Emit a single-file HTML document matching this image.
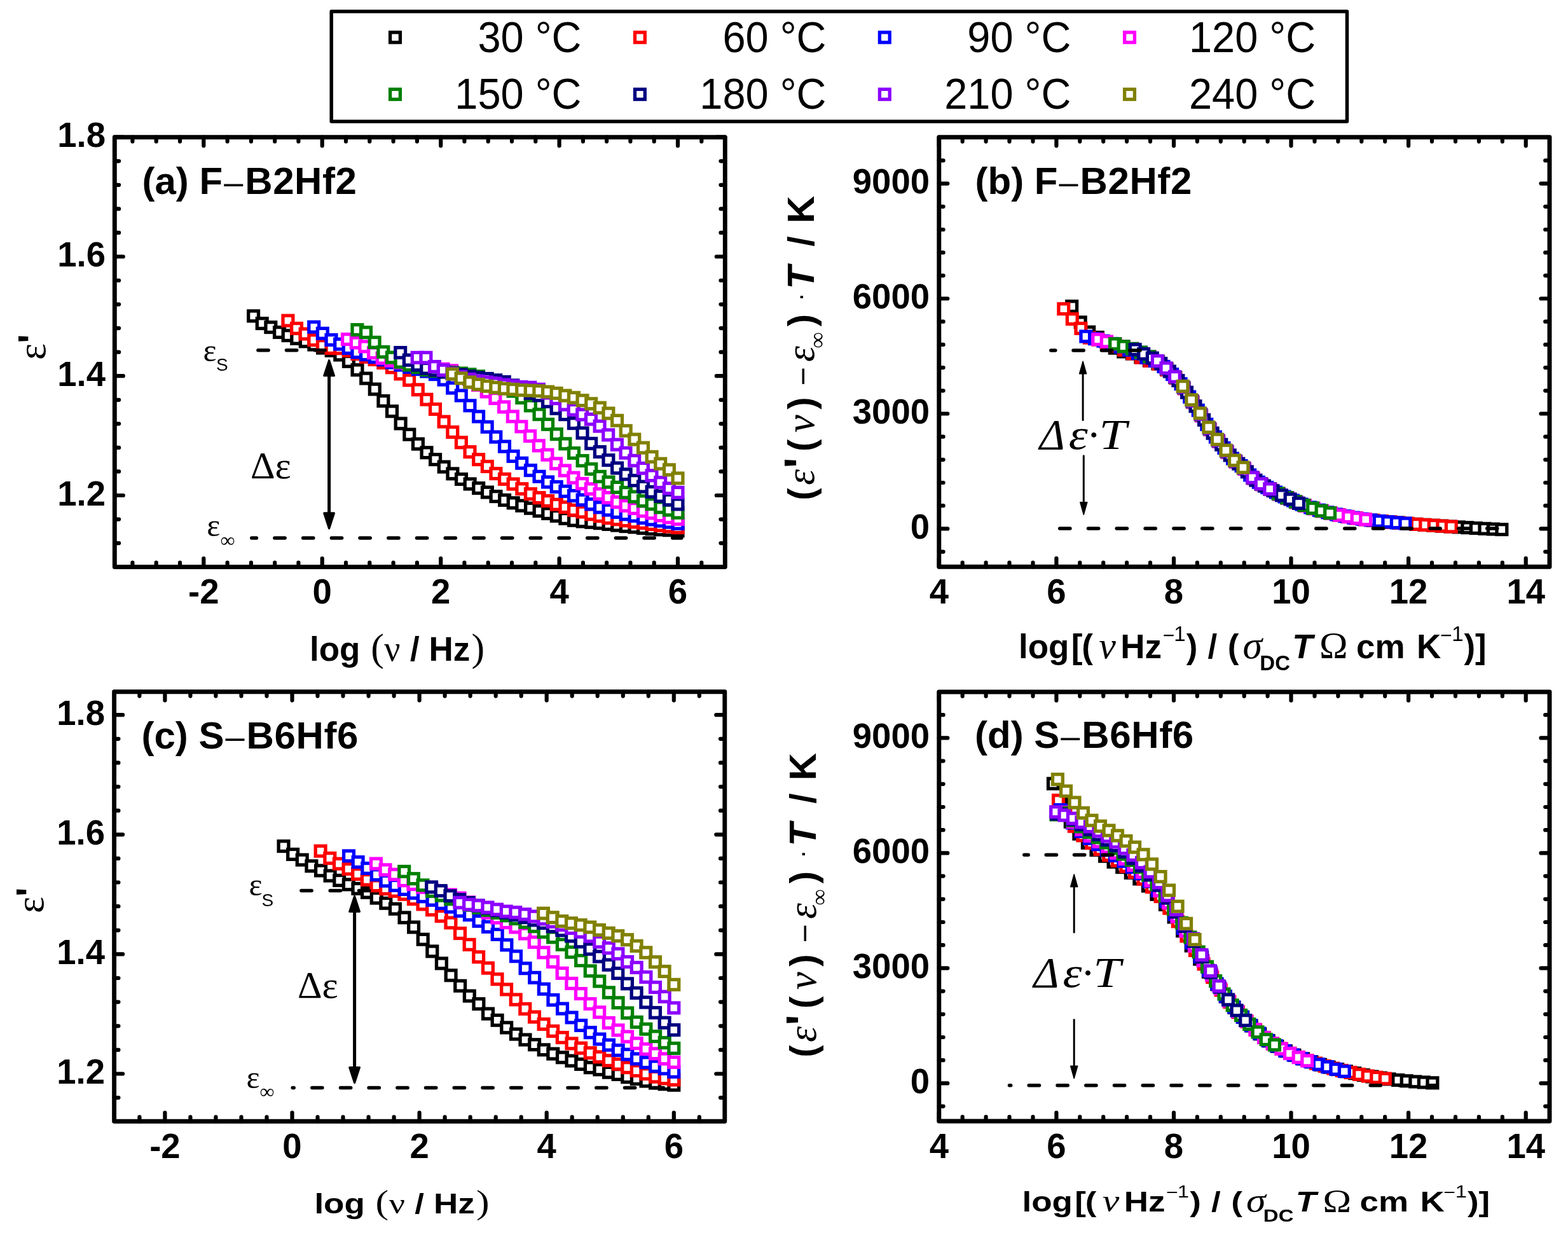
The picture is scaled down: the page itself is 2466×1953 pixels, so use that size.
<!DOCTYPE html>
<html><head><meta charset="utf-8"><title>Dielectric spectra</title>
<style>html,body{margin:0;padding:0;background:#fff;} svg{display:block;}</style>
</head><body>
<svg xmlns="http://www.w3.org/2000/svg" width="2466" height="1953" viewBox="0 0 2466 1953">
<rect width="2466" height="1953" fill="#fff"/>
<g fill="#fff" stroke="#000000" stroke-width="5.3"><rect x="390.7" y="489.0" width="15.8" height="15.8"/><rect x="404.3" y="500.7" width="15.8" height="15.8"/><rect x="417.9" y="506.7" width="15.8" height="15.8"/><rect x="431.6" y="514.6" width="15.8" height="15.8"/><rect x="445.2" y="519.7" width="15.8" height="15.8"/><rect x="458.8" y="524.4" width="15.8" height="15.8"/><rect x="472.4" y="529.0" width="15.8" height="15.8"/><rect x="486.0" y="534.1" width="15.8" height="15.8"/><rect x="499.7" y="539.2" width="15.8" height="15.8"/><rect x="513.3" y="543.4" width="15.8" height="15.8"/><rect x="526.9" y="550.1" width="15.8" height="15.8"/><rect x="540.5" y="560.4" width="15.8" height="15.8"/><rect x="554.1" y="573.8" width="15.8" height="15.8"/><rect x="567.8" y="587.1" width="15.8" height="15.8"/><rect x="581.4" y="604.1" width="15.8" height="15.8"/><rect x="595.0" y="622.6" width="15.8" height="15.8"/><rect x="608.6" y="638.8" width="15.8" height="15.8"/><rect x="622.2" y="658.1" width="15.8" height="15.8"/><rect x="635.9" y="675.3" width="15.8" height="15.8"/><rect x="649.5" y="690.2" width="15.8" height="15.8"/><rect x="663.1" y="703.8" width="15.8" height="15.8"/><rect x="676.7" y="714.7" width="15.8" height="15.8"/><rect x="690.3" y="726.2" width="15.8" height="15.8"/><rect x="704.0" y="737.0" width="15.8" height="15.8"/><rect x="717.6" y="745.6" width="15.8" height="15.8"/><rect x="731.2" y="753.1" width="15.8" height="15.8"/><rect x="744.8" y="759.7" width="15.8" height="15.8"/><rect x="758.5" y="766.2" width="15.8" height="15.8"/><rect x="772.1" y="772.7" width="15.8" height="15.8"/><rect x="785.7" y="778.5" width="15.8" height="15.8"/><rect x="799.3" y="782.9" width="15.8" height="15.8"/><rect x="812.9" y="787.3" width="15.8" height="15.8"/><rect x="826.6" y="791.3" width="15.8" height="15.8"/><rect x="840.2" y="795.6" width="15.8" height="15.8"/><rect x="853.8" y="799.6" width="15.8" height="15.8"/><rect x="867.4" y="803.4" width="15.8" height="15.8"/><rect x="881.0" y="807.5" width="15.8" height="15.8"/><rect x="894.7" y="810.4" width="15.8" height="15.8"/><rect x="908.3" y="812.1" width="15.8" height="15.8"/><rect x="921.9" y="813.4" width="15.8" height="15.8"/><rect x="935.5" y="814.8" width="15.8" height="15.8"/><rect x="949.1" y="816.5" width="15.8" height="15.8"/><rect x="962.8" y="818.2" width="15.8" height="15.8"/><rect x="976.4" y="819.7" width="15.8" height="15.8"/><rect x="990.0" y="821.0" width="15.8" height="15.8"/><rect x="1003.6" y="822.6" width="15.8" height="15.8"/><rect x="1017.2" y="823.9" width="15.8" height="15.8"/><rect x="1030.9" y="825.0" width="15.8" height="15.8"/><rect x="1044.5" y="825.8" width="15.8" height="15.8"/><rect x="1058.1" y="826.9" width="15.8" height="15.8"/></g>
<g fill="#fff" stroke="#FF0000" stroke-width="5.3"><rect x="445.0" y="496.3" width="15.8" height="15.8"/><rect x="458.6" y="508.5" width="15.8" height="15.8"/><rect x="472.2" y="517.2" width="15.8" height="15.8"/><rect x="485.9" y="526.8" width="15.8" height="15.8"/><rect x="499.5" y="535.6" width="15.8" height="15.8"/><rect x="513.1" y="539.6" width="15.8" height="15.8"/><rect x="526.7" y="539.9" width="15.8" height="15.8"/><rect x="540.4" y="543.6" width="15.8" height="15.8"/><rect x="554.0" y="548.7" width="15.8" height="15.8"/><rect x="567.6" y="553.4" width="15.8" height="15.8"/><rect x="581.2" y="557.5" width="15.8" height="15.8"/><rect x="594.9" y="562.6" width="15.8" height="15.8"/><rect x="608.5" y="569.9" width="15.8" height="15.8"/><rect x="622.1" y="580.0" width="15.8" height="15.8"/><rect x="635.7" y="589.9" width="15.8" height="15.8"/><rect x="649.4" y="604.9" width="15.8" height="15.8"/><rect x="663.0" y="620.3" width="15.8" height="15.8"/><rect x="676.6" y="635.5" width="15.8" height="15.8"/><rect x="690.2" y="655.2" width="15.8" height="15.8"/><rect x="703.9" y="671.6" width="15.8" height="15.8"/><rect x="717.5" y="687.9" width="15.8" height="15.8"/><rect x="731.1" y="702.7" width="15.8" height="15.8"/><rect x="744.7" y="714.7" width="15.8" height="15.8"/><rect x="758.4" y="725.6" width="15.8" height="15.8"/><rect x="772.0" y="736.8" width="15.8" height="15.8"/><rect x="785.6" y="745.5" width="15.8" height="15.8"/><rect x="799.2" y="753.2" width="15.8" height="15.8"/><rect x="812.9" y="760.8" width="15.8" height="15.8"/><rect x="826.5" y="768.8" width="15.8" height="15.8"/><rect x="840.1" y="774.8" width="15.8" height="15.8"/><rect x="853.7" y="779.7" width="15.8" height="15.8"/><rect x="867.4" y="785.4" width="15.8" height="15.8"/><rect x="881.0" y="789.7" width="15.8" height="15.8"/><rect x="894.6" y="794.3" width="15.8" height="15.8"/><rect x="908.2" y="797.1" width="15.8" height="15.8"/><rect x="921.9" y="800.8" width="15.8" height="15.8"/><rect x="935.5" y="803.7" width="15.8" height="15.8"/><rect x="949.1" y="806.7" width="15.8" height="15.8"/><rect x="962.7" y="808.8" width="15.8" height="15.8"/><rect x="976.4" y="810.9" width="15.8" height="15.8"/><rect x="990.0" y="813.0" width="15.8" height="15.8"/><rect x="1003.6" y="814.6" width="15.8" height="15.8"/><rect x="1017.2" y="816.6" width="15.8" height="15.8"/><rect x="1030.9" y="818.4" width="15.8" height="15.8"/><rect x="1044.5" y="820.1" width="15.8" height="15.8"/><rect x="1058.1" y="821.7" width="15.8" height="15.8"/></g>
<g fill="#fff" stroke="#0000FF" stroke-width="5.3"><rect x="485.8" y="506.3" width="15.8" height="15.8"/><rect x="499.4" y="516.4" width="15.8" height="15.8"/><rect x="513.1" y="526.6" width="15.8" height="15.8"/><rect x="526.7" y="533.2" width="15.8" height="15.8"/><rect x="540.3" y="539.6" width="15.8" height="15.8"/><rect x="553.9" y="546.1" width="15.8" height="15.8"/><rect x="567.6" y="549.8" width="15.8" height="15.8"/><rect x="581.2" y="553.7" width="15.8" height="15.8"/><rect x="594.8" y="557.9" width="15.8" height="15.8"/><rect x="608.4" y="562.2" width="15.8" height="15.8"/><rect x="622.1" y="566.1" width="15.8" height="15.8"/><rect x="635.7" y="569.4" width="15.8" height="15.8"/><rect x="649.3" y="572.7" width="15.8" height="15.8"/><rect x="662.9" y="576.1" width="15.8" height="15.8"/><rect x="676.6" y="580.7" width="15.8" height="15.8"/><rect x="690.2" y="589.2" width="15.8" height="15.8"/><rect x="703.8" y="602.2" width="15.8" height="15.8"/><rect x="717.4" y="614.1" width="15.8" height="15.8"/><rect x="731.1" y="629.9" width="15.8" height="15.8"/><rect x="744.7" y="647.1" width="15.8" height="15.8"/><rect x="758.3" y="663.4" width="15.8" height="15.8"/><rect x="771.9" y="679.2" width="15.8" height="15.8"/><rect x="785.6" y="694.2" width="15.8" height="15.8"/><rect x="799.2" y="709.5" width="15.8" height="15.8"/><rect x="812.8" y="720.4" width="15.8" height="15.8"/><rect x="826.5" y="731.7" width="15.8" height="15.8"/><rect x="840.1" y="741.4" width="15.8" height="15.8"/><rect x="853.7" y="750.1" width="15.8" height="15.8"/><rect x="867.3" y="757.7" width="15.8" height="15.8"/><rect x="881.0" y="764.6" width="15.8" height="15.8"/><rect x="894.6" y="771.6" width="15.8" height="15.8"/><rect x="908.2" y="778.2" width="15.8" height="15.8"/><rect x="921.8" y="784.9" width="15.8" height="15.8"/><rect x="935.5" y="789.9" width="15.8" height="15.8"/><rect x="949.1" y="794.1" width="15.8" height="15.8"/><rect x="962.7" y="797.5" width="15.8" height="15.8"/><rect x="976.3" y="800.9" width="15.8" height="15.8"/><rect x="990.0" y="803.4" width="15.8" height="15.8"/><rect x="1003.6" y="806.6" width="15.8" height="15.8"/><rect x="1017.2" y="809.1" width="15.8" height="15.8"/><rect x="1030.8" y="811.3" width="15.8" height="15.8"/><rect x="1044.5" y="813.3" width="15.8" height="15.8"/><rect x="1058.1" y="815.5" width="15.8" height="15.8"/></g>
<g fill="#fff" stroke="#FF00FF" stroke-width="5.3"><rect x="538.6" y="525.6" width="15.8" height="15.8"/><rect x="552.3" y="531.0" width="15.8" height="15.8"/><rect x="565.9" y="537.0" width="15.8" height="15.8"/><rect x="579.6" y="546.9" width="15.8" height="15.8"/><rect x="593.3" y="555.3" width="15.8" height="15.8"/><rect x="607.0" y="559.3" width="15.8" height="15.8"/><rect x="620.6" y="562.3" width="15.8" height="15.8"/><rect x="634.3" y="564.8" width="15.8" height="15.8"/><rect x="648.0" y="567.0" width="15.8" height="15.8"/><rect x="661.6" y="568.8" width="15.8" height="15.8"/><rect x="675.3" y="570.5" width="15.8" height="15.8"/><rect x="689.0" y="572.4" width="15.8" height="15.8"/><rect x="702.7" y="574.9" width="15.8" height="15.8"/><rect x="716.3" y="579.8" width="15.8" height="15.8"/><rect x="730.0" y="587.8" width="15.8" height="15.8"/><rect x="743.7" y="597.5" width="15.8" height="15.8"/><rect x="757.3" y="608.0" width="15.8" height="15.8"/><rect x="771.0" y="618.5" width="15.8" height="15.8"/><rect x="784.7" y="632.0" width="15.8" height="15.8"/><rect x="798.4" y="647.0" width="15.8" height="15.8"/><rect x="812.0" y="662.9" width="15.8" height="15.8"/><rect x="825.7" y="677.8" width="15.8" height="15.8"/><rect x="839.4" y="692.9" width="15.8" height="15.8"/><rect x="853.0" y="707.3" width="15.8" height="15.8"/><rect x="866.7" y="721.1" width="15.8" height="15.8"/><rect x="880.4" y="732.1" width="15.8" height="15.8"/><rect x="894.0" y="743.3" width="15.8" height="15.8"/><rect x="907.7" y="752.6" width="15.8" height="15.8"/><rect x="921.4" y="760.9" width="15.8" height="15.8"/><rect x="935.1" y="768.8" width="15.8" height="15.8"/><rect x="948.7" y="774.7" width="15.8" height="15.8"/><rect x="962.4" y="781.6" width="15.8" height="15.8"/><rect x="976.1" y="787.4" width="15.8" height="15.8"/><rect x="989.7" y="791.6" width="15.8" height="15.8"/><rect x="1003.4" y="795.8" width="15.8" height="15.8"/><rect x="1017.1" y="799.0" width="15.8" height="15.8"/><rect x="1030.8" y="802.9" width="15.8" height="15.8"/><rect x="1044.4" y="805.8" width="15.8" height="15.8"/><rect x="1058.1" y="808.4" width="15.8" height="15.8"/></g>
<g fill="#fff" stroke="#008000" stroke-width="5.3"><rect x="554.0" y="510.7" width="15.8" height="15.8"/><rect x="567.6" y="514.8" width="15.8" height="15.8"/><rect x="581.2" y="530.5" width="15.8" height="15.8"/><rect x="594.9" y="545.5" width="15.8" height="15.8"/><rect x="608.5" y="554.2" width="15.8" height="15.8"/><rect x="622.1" y="561.4" width="15.8" height="15.8"/><rect x="635.7" y="566.0" width="15.8" height="15.8"/><rect x="649.4" y="569.7" width="15.8" height="15.8"/><rect x="663.0" y="573.8" width="15.8" height="15.8"/><rect x="676.6" y="575.6" width="15.8" height="15.8"/><rect x="690.2" y="576.9" width="15.8" height="15.8"/><rect x="703.9" y="577.9" width="15.8" height="15.8"/><rect x="717.5" y="579.1" width="15.8" height="15.8"/><rect x="731.1" y="580.9" width="15.8" height="15.8"/><rect x="744.7" y="583.8" width="15.8" height="15.8"/><rect x="758.4" y="587.8" width="15.8" height="15.8"/><rect x="772.0" y="592.9" width="15.8" height="15.8"/><rect x="785.6" y="598.8" width="15.8" height="15.8"/><rect x="799.2" y="607.1" width="15.8" height="15.8"/><rect x="812.9" y="617.6" width="15.8" height="15.8"/><rect x="826.5" y="630.0" width="15.8" height="15.8"/><rect x="840.1" y="643.7" width="15.8" height="15.8"/><rect x="853.7" y="659.4" width="15.8" height="15.8"/><rect x="867.4" y="674.8" width="15.8" height="15.8"/><rect x="881.0" y="689.9" width="15.8" height="15.8"/><rect x="894.6" y="704.6" width="15.8" height="15.8"/><rect x="908.2" y="716.6" width="15.8" height="15.8"/><rect x="921.9" y="729.6" width="15.8" height="15.8"/><rect x="935.5" y="741.5" width="15.8" height="15.8"/><rect x="949.1" y="750.2" width="15.8" height="15.8"/><rect x="962.7" y="758.4" width="15.8" height="15.8"/><rect x="976.4" y="766.6" width="15.8" height="15.8"/><rect x="990.0" y="773.2" width="15.8" height="15.8"/><rect x="1003.6" y="779.9" width="15.8" height="15.8"/><rect x="1017.2" y="784.8" width="15.8" height="15.8"/><rect x="1030.9" y="789.9" width="15.8" height="15.8"/><rect x="1044.5" y="794.1" width="15.8" height="15.8"/><rect x="1058.1" y="798.4" width="15.8" height="15.8"/></g>
<g fill="#fff" stroke="#000080" stroke-width="5.3"><rect x="621.8" y="546.6" width="15.8" height="15.8"/><rect x="635.4" y="558.3" width="15.8" height="15.8"/><rect x="649.1" y="566.1" width="15.8" height="15.8"/><rect x="662.7" y="571.3" width="15.8" height="15.8"/><rect x="676.3" y="574.2" width="15.8" height="15.8"/><rect x="690.0" y="577.1" width="15.8" height="15.8"/><rect x="703.6" y="579.0" width="15.8" height="15.8"/><rect x="717.2" y="581.3" width="15.8" height="15.8"/><rect x="730.9" y="583.9" width="15.8" height="15.8"/><rect x="744.5" y="585.9" width="15.8" height="15.8"/><rect x="758.1" y="587.5" width="15.8" height="15.8"/><rect x="771.8" y="589.9" width="15.8" height="15.8"/><rect x="785.4" y="592.7" width="15.8" height="15.8"/><rect x="799.0" y="598.0" width="15.8" height="15.8"/><rect x="812.7" y="604.9" width="15.8" height="15.8"/><rect x="826.3" y="610.4" width="15.8" height="15.8"/><rect x="840.0" y="614.0" width="15.8" height="15.8"/><rect x="853.6" y="623.6" width="15.8" height="15.8"/><rect x="867.2" y="634.4" width="15.8" height="15.8"/><rect x="880.9" y="643.8" width="15.8" height="15.8"/><rect x="894.5" y="657.7" width="15.8" height="15.8"/><rect x="908.1" y="673.0" width="15.8" height="15.8"/><rect x="921.8" y="689.5" width="15.8" height="15.8"/><rect x="935.4" y="702.6" width="15.8" height="15.8"/><rect x="949.0" y="715.7" width="15.8" height="15.8"/><rect x="962.7" y="728.1" width="15.8" height="15.8"/><rect x="976.3" y="737.9" width="15.8" height="15.8"/><rect x="989.9" y="747.7" width="15.8" height="15.8"/><rect x="1003.6" y="757.3" width="15.8" height="15.8"/><rect x="1017.2" y="765.5" width="15.8" height="15.8"/><rect x="1030.8" y="772.4" width="15.8" height="15.8"/><rect x="1044.5" y="778.1" width="15.8" height="15.8"/><rect x="1058.1" y="785.0" width="15.8" height="15.8"/></g>
<g fill="#fff" stroke="#8C00FF" stroke-width="5.3"><rect x="648.3" y="554.4" width="15.8" height="15.8"/><rect x="662.0" y="554.4" width="15.8" height="15.8"/><rect x="675.6" y="568.6" width="15.8" height="15.8"/><rect x="689.3" y="574.1" width="15.8" height="15.8"/><rect x="702.9" y="579.3" width="15.8" height="15.8"/><rect x="716.6" y="584.4" width="15.8" height="15.8"/><rect x="730.3" y="588.5" width="15.8" height="15.8"/><rect x="743.9" y="591.2" width="15.8" height="15.8"/><rect x="757.6" y="593.1" width="15.8" height="15.8"/><rect x="771.2" y="594.9" width="15.8" height="15.8"/><rect x="784.9" y="597.2" width="15.8" height="15.8"/><rect x="798.6" y="599.1" width="15.8" height="15.8"/><rect x="812.2" y="600.6" width="15.8" height="15.8"/><rect x="825.9" y="601.4" width="15.8" height="15.8"/><rect x="839.5" y="604.3" width="15.8" height="15.8"/><rect x="853.2" y="610.0" width="15.8" height="15.8"/><rect x="866.9" y="618.7" width="15.8" height="15.8"/><rect x="880.5" y="628.3" width="15.8" height="15.8"/><rect x="894.2" y="636.5" width="15.8" height="15.8"/><rect x="907.8" y="644.1" width="15.8" height="15.8"/><rect x="921.5" y="651.3" width="15.8" height="15.8"/><rect x="935.2" y="662.2" width="15.8" height="15.8"/><rect x="948.8" y="676.0" width="15.8" height="15.8"/><rect x="962.5" y="691.3" width="15.8" height="15.8"/><rect x="976.1" y="704.3" width="15.8" height="15.8"/><rect x="989.8" y="716.4" width="15.8" height="15.8"/><rect x="1003.5" y="728.4" width="15.8" height="15.8"/><rect x="1017.1" y="739.9" width="15.8" height="15.8"/><rect x="1030.8" y="750.8" width="15.8" height="15.8"/><rect x="1044.4" y="760.0" width="15.8" height="15.8"/><rect x="1058.1" y="766.5" width="15.8" height="15.8"/></g>
<g fill="#fff" stroke="#808000" stroke-width="5.3"><rect x="703.6" y="580.2" width="15.8" height="15.8"/><rect x="717.2" y="586.9" width="15.8" height="15.8"/><rect x="730.9" y="593.1" width="15.8" height="15.8"/><rect x="744.5" y="596.5" width="15.8" height="15.8"/><rect x="758.1" y="599.3" width="15.8" height="15.8"/><rect x="771.8" y="601.5" width="15.8" height="15.8"/><rect x="785.4" y="603.3" width="15.8" height="15.8"/><rect x="799.0" y="604.4" width="15.8" height="15.8"/><rect x="812.7" y="605.6" width="15.8" height="15.8"/><rect x="826.3" y="606.2" width="15.8" height="15.8"/><rect x="839.9" y="606.9" width="15.8" height="15.8"/><rect x="853.6" y="608.2" width="15.8" height="15.8"/><rect x="867.2" y="610.5" width="15.8" height="15.8"/><rect x="880.9" y="614.2" width="15.8" height="15.8"/><rect x="894.5" y="617.4" width="15.8" height="15.8"/><rect x="908.1" y="621.8" width="15.8" height="15.8"/><rect x="921.8" y="626.9" width="15.8" height="15.8"/><rect x="935.4" y="633.3" width="15.8" height="15.8"/><rect x="949.0" y="642.1" width="15.8" height="15.8"/><rect x="962.7" y="653.4" width="15.8" height="15.8"/><rect x="976.3" y="669.5" width="15.8" height="15.8"/><rect x="989.9" y="683.1" width="15.8" height="15.8"/><rect x="1003.6" y="696.2" width="15.8" height="15.8"/><rect x="1017.2" y="710.4" width="15.8" height="15.8"/><rect x="1030.8" y="721.3" width="15.8" height="15.8"/><rect x="1044.5" y="730.9" width="15.8" height="15.8"/><rect x="1058.1" y="744.1" width="15.8" height="15.8"/></g>
<g fill="#fff" stroke="#000000" stroke-width="5.3"><rect x="1677.8" y="473.8" width="15.8" height="15.8"/><rect x="1691.3" y="498.9" width="15.8" height="15.8"/><rect x="1704.8" y="514.3" width="15.8" height="15.8"/><rect x="1718.4" y="522.6" width="15.8" height="15.8"/><rect x="1731.9" y="530.0" width="15.8" height="15.8"/><rect x="1745.4" y="539.3" width="15.8" height="15.8"/><rect x="1758.9" y="545.1" width="15.8" height="15.8"/><rect x="1772.5" y="548.2" width="15.8" height="15.8"/><rect x="1786.0" y="553.8" width="15.8" height="15.8"/><rect x="1799.5" y="559.1" width="15.8" height="15.8"/><rect x="1813.0" y="563.8" width="15.8" height="15.8"/><rect x="1826.6" y="573.1" width="15.8" height="15.8"/><rect x="1840.1" y="585.6" width="15.8" height="15.8"/><rect x="1853.6" y="601.6" width="15.8" height="15.8"/><rect x="1867.1" y="623.1" width="15.8" height="15.8"/><rect x="1880.7" y="644.1" width="15.8" height="15.8"/><rect x="1894.2" y="665.9" width="15.8" height="15.8"/><rect x="1907.7" y="684.8" width="15.8" height="15.8"/><rect x="1921.2" y="701.7" width="15.8" height="15.8"/><rect x="1934.8" y="717.1" width="15.8" height="15.8"/><rect x="1948.3" y="728.3" width="15.8" height="15.8"/><rect x="1961.8" y="743.2" width="15.8" height="15.8"/><rect x="1975.3" y="753.0" width="15.8" height="15.8"/><rect x="1988.9" y="760.9" width="15.8" height="15.8"/><rect x="2002.4" y="768.3" width="15.8" height="15.8"/><rect x="2015.9" y="774.8" width="15.8" height="15.8"/><rect x="2029.4" y="781.1" width="15.8" height="15.8"/><rect x="2042.9" y="786.6" width="15.8" height="15.8"/><rect x="2056.5" y="791.3" width="15.8" height="15.8"/><rect x="2070.0" y="795.3" width="15.8" height="15.8"/><rect x="2083.5" y="798.8" width="15.8" height="15.8"/><rect x="2097.0" y="801.7" width="15.8" height="15.8"/><rect x="2110.6" y="804.4" width="15.8" height="15.8"/><rect x="2124.1" y="806.7" width="15.8" height="15.8"/><rect x="2137.6" y="808.7" width="15.8" height="15.8"/><rect x="2151.1" y="810.4" width="15.8" height="15.8"/><rect x="2164.7" y="811.8" width="15.8" height="15.8"/><rect x="2178.2" y="813.1" width="15.8" height="15.8"/><rect x="2191.7" y="814.2" width="15.8" height="15.8"/><rect x="2205.2" y="815.4" width="15.8" height="15.8"/><rect x="2218.8" y="816.4" width="15.8" height="15.8"/><rect x="2232.3" y="817.4" width="15.8" height="15.8"/><rect x="2245.8" y="818.3" width="15.8" height="15.8"/><rect x="2259.3" y="819.2" width="15.8" height="15.8"/><rect x="2272.9" y="820.1" width="15.8" height="15.8"/><rect x="2286.4" y="821.0" width="15.8" height="15.8"/><rect x="2299.9" y="821.8" width="15.8" height="15.8"/><rect x="2313.4" y="822.6" width="15.8" height="15.8"/><rect x="2327.0" y="823.4" width="15.8" height="15.8"/><rect x="2340.5" y="824.1" width="15.8" height="15.8"/><rect x="2354.0" y="824.7" width="15.8" height="15.8"/></g>
<g fill="#fff" stroke="#FF0000" stroke-width="5.3"><rect x="1664.9" y="477.8" width="15.8" height="15.8"/><rect x="1678.4" y="493.7" width="15.8" height="15.8"/><rect x="1692.0" y="508.5" width="15.8" height="15.8"/><rect x="1705.5" y="523.2" width="15.8" height="15.8"/><rect x="1719.1" y="526.2" width="15.8" height="15.8"/><rect x="1732.6" y="530.6" width="15.8" height="15.8"/><rect x="1746.2" y="535.7" width="15.8" height="15.8"/><rect x="1759.7" y="542.3" width="15.8" height="15.8"/><rect x="1773.3" y="547.9" width="15.8" height="15.8"/><rect x="1786.8" y="554.3" width="15.8" height="15.8"/><rect x="1800.3" y="559.3" width="15.8" height="15.8"/><rect x="1813.9" y="564.2" width="15.8" height="15.8"/><rect x="1827.4" y="573.7" width="15.8" height="15.8"/><rect x="1841.0" y="586.5" width="15.8" height="15.8"/><rect x="1854.5" y="602.9" width="15.8" height="15.8"/><rect x="1868.1" y="624.6" width="15.8" height="15.8"/><rect x="1881.6" y="645.6" width="15.8" height="15.8"/><rect x="1895.2" y="667.4" width="15.8" height="15.8"/><rect x="1908.7" y="686.1" width="15.8" height="15.8"/><rect x="1922.2" y="702.9" width="15.8" height="15.8"/><rect x="1935.8" y="718.0" width="15.8" height="15.8"/><rect x="1949.3" y="729.4" width="15.8" height="15.8"/><rect x="1962.9" y="744.1" width="15.8" height="15.8"/><rect x="1976.4" y="753.7" width="15.8" height="15.8"/><rect x="1990.0" y="761.5" width="15.8" height="15.8"/><rect x="2003.5" y="768.9" width="15.8" height="15.8"/><rect x="2017.1" y="775.3" width="15.8" height="15.8"/><rect x="2030.6" y="781.7" width="15.8" height="15.8"/><rect x="2044.1" y="787.1" width="15.8" height="15.8"/><rect x="2057.7" y="791.7" width="15.8" height="15.8"/><rect x="2071.2" y="795.7" width="15.8" height="15.8"/><rect x="2084.8" y="799.0" width="15.8" height="15.8"/><rect x="2098.3" y="802.0" width="15.8" height="15.8"/><rect x="2111.9" y="804.6" width="15.8" height="15.8"/><rect x="2125.4" y="806.9" width="15.8" height="15.8"/><rect x="2139.0" y="808.9" width="15.8" height="15.8"/><rect x="2152.5" y="810.5" width="15.8" height="15.8"/><rect x="2166.0" y="811.9" width="15.8" height="15.8"/><rect x="2179.6" y="813.2" width="15.8" height="15.8"/><rect x="2193.1" y="814.4" width="15.8" height="15.8"/><rect x="2206.7" y="815.5" width="15.8" height="15.8"/><rect x="2220.2" y="816.5" width="15.8" height="15.8"/><rect x="2233.8" y="817.5" width="15.8" height="15.8"/><rect x="2247.3" y="818.4" width="15.8" height="15.8"/><rect x="2260.9" y="819.3" width="15.8" height="15.8"/><rect x="2274.4" y="820.2" width="15.8" height="15.8"/></g>
<g fill="#fff" stroke="#0000FF" stroke-width="5.3"><rect x="1700.0" y="521.1" width="15.8" height="15.8"/><rect x="1713.6" y="524.8" width="15.8" height="15.8"/><rect x="1727.1" y="528.3" width="15.8" height="15.8"/><rect x="1740.7" y="532.5" width="15.8" height="15.8"/><rect x="1754.3" y="537.5" width="15.8" height="15.8"/><rect x="1767.8" y="542.4" width="15.8" height="15.8"/><rect x="1781.4" y="547.6" width="15.8" height="15.8"/><rect x="1795.0" y="554.2" width="15.8" height="15.8"/><rect x="1808.5" y="559.6" width="15.8" height="15.8"/><rect x="1822.1" y="568.5" width="15.8" height="15.8"/><rect x="1835.7" y="580.7" width="15.8" height="15.8"/><rect x="1849.2" y="595.7" width="15.8" height="15.8"/><rect x="1862.8" y="616.2" width="15.8" height="15.8"/><rect x="1876.4" y="637.3" width="15.8" height="15.8"/><rect x="1889.9" y="659.4" width="15.8" height="15.8"/><rect x="1903.5" y="679.2" width="15.8" height="15.8"/><rect x="1917.1" y="696.6" width="15.8" height="15.8"/><rect x="1930.6" y="713.1" width="15.8" height="15.8"/><rect x="1944.2" y="724.7" width="15.8" height="15.8"/><rect x="1957.8" y="739.1" width="15.8" height="15.8"/><rect x="1971.4" y="750.4" width="15.8" height="15.8"/><rect x="1984.9" y="758.7" width="15.8" height="15.8"/><rect x="1998.5" y="766.2" width="15.8" height="15.8"/><rect x="2012.1" y="773.1" width="15.8" height="15.8"/><rect x="2025.6" y="779.2" width="15.8" height="15.8"/><rect x="2039.2" y="785.2" width="15.8" height="15.8"/><rect x="2052.8" y="790.1" width="15.8" height="15.8"/><rect x="2066.3" y="794.3" width="15.8" height="15.8"/><rect x="2079.9" y="797.9" width="15.8" height="15.8"/><rect x="2093.5" y="801.0" width="15.8" height="15.8"/><rect x="2107.0" y="803.7" width="15.8" height="15.8"/><rect x="2120.6" y="806.2" width="15.8" height="15.8"/><rect x="2134.2" y="808.2" width="15.8" height="15.8"/><rect x="2147.7" y="810.0" width="15.8" height="15.8"/><rect x="2161.3" y="811.5" width="15.8" height="15.8"/><rect x="2174.9" y="812.8" width="15.8" height="15.8"/><rect x="2188.4" y="814.0" width="15.8" height="15.8"/><rect x="2202.0" y="815.1" width="15.8" height="15.8"/></g>
<g fill="#fff" stroke="#FF00FF" stroke-width="5.3"><rect x="1718.8" y="525.8" width="15.8" height="15.8"/><rect x="1732.4" y="529.2" width="15.8" height="15.8"/><rect x="1746.0" y="532.9" width="15.8" height="15.8"/><rect x="1759.5" y="537.0" width="15.8" height="15.8"/><rect x="1773.1" y="540.5" width="15.8" height="15.8"/><rect x="1786.7" y="546.4" width="15.8" height="15.8"/><rect x="1800.3" y="553.2" width="15.8" height="15.8"/><rect x="1813.9" y="560.7" width="15.8" height="15.8"/><rect x="1827.4" y="572.3" width="15.8" height="15.8"/><rect x="1841.0" y="586.1" width="15.8" height="15.8"/><rect x="1854.6" y="602.9" width="15.8" height="15.8"/><rect x="1868.2" y="624.7" width="15.8" height="15.8"/><rect x="1881.8" y="645.9" width="15.8" height="15.8"/><rect x="1895.3" y="667.7" width="15.8" height="15.8"/><rect x="1908.9" y="686.4" width="15.8" height="15.8"/><rect x="1922.5" y="703.3" width="15.8" height="15.8"/><rect x="1936.1" y="718.3" width="15.8" height="15.8"/><rect x="1949.7" y="729.8" width="15.8" height="15.8"/><rect x="1963.3" y="744.4" width="15.8" height="15.8"/><rect x="1976.8" y="753.9" width="15.8" height="15.8"/><rect x="1990.4" y="761.8" width="15.8" height="15.8"/><rect x="2004.0" y="769.1" width="15.8" height="15.8"/><rect x="2017.6" y="775.5" width="15.8" height="15.8"/><rect x="2031.2" y="782.0" width="15.8" height="15.8"/><rect x="2044.7" y="787.3" width="15.8" height="15.8"/><rect x="2058.3" y="791.9" width="15.8" height="15.8"/><rect x="2071.9" y="795.8" width="15.8" height="15.8"/><rect x="2085.5" y="799.2" width="15.8" height="15.8"/><rect x="2099.1" y="802.2" width="15.8" height="15.8"/><rect x="2112.6" y="804.8" width="15.8" height="15.8"/><rect x="2126.2" y="807.1" width="15.8" height="15.8"/><rect x="2139.8" y="809.0" width="15.8" height="15.8"/></g>
<g fill="#fff" stroke="#008000" stroke-width="5.3"><rect x="1745.7" y="532.8" width="15.8" height="15.8"/><rect x="1759.2" y="536.9" width="15.8" height="15.8"/><rect x="1772.7" y="540.4" width="15.8" height="15.8"/><rect x="1786.3" y="546.1" width="15.8" height="15.8"/><rect x="1799.8" y="552.9" width="15.8" height="15.8"/><rect x="1813.3" y="560.3" width="15.8" height="15.8"/><rect x="1826.8" y="571.7" width="15.8" height="15.8"/><rect x="1840.3" y="585.3" width="15.8" height="15.8"/><rect x="1853.9" y="601.8" width="15.8" height="15.8"/><rect x="1867.4" y="623.5" width="15.8" height="15.8"/><rect x="1880.9" y="644.4" width="15.8" height="15.8"/><rect x="1894.4" y="666.3" width="15.8" height="15.8"/><rect x="1907.9" y="685.1" width="15.8" height="15.8"/><rect x="1921.5" y="702.0" width="15.8" height="15.8"/><rect x="1935.0" y="717.3" width="15.8" height="15.8"/><rect x="1948.5" y="728.6" width="15.8" height="15.8"/><rect x="1962.0" y="743.4" width="15.8" height="15.8"/><rect x="1975.5" y="753.1" width="15.8" height="15.8"/><rect x="1989.1" y="761.0" width="15.8" height="15.8"/><rect x="2002.6" y="768.4" width="15.8" height="15.8"/><rect x="2016.1" y="774.9" width="15.8" height="15.8"/><rect x="2029.6" y="781.2" width="15.8" height="15.8"/><rect x="2043.1" y="786.7" width="15.8" height="15.8"/><rect x="2056.7" y="791.3" width="15.8" height="15.8"/><rect x="2070.2" y="795.4" width="15.8" height="15.8"/><rect x="2083.7" y="798.8" width="15.8" height="15.8"/></g>
<g fill="#fff" stroke="#000080" stroke-width="5.3"><rect x="1777.3" y="541.8" width="15.8" height="15.8"/><rect x="1790.8" y="548.6" width="15.8" height="15.8"/><rect x="1804.4" y="555.2" width="15.8" height="15.8"/><rect x="1817.9" y="563.8" width="15.8" height="15.8"/><rect x="1831.5" y="576.1" width="15.8" height="15.8"/><rect x="1845.0" y="590.6" width="15.8" height="15.8"/><rect x="1858.6" y="609.2" width="15.8" height="15.8"/><rect x="1872.1" y="630.8" width="15.8" height="15.8"/><rect x="1885.7" y="652.4" width="15.8" height="15.8"/><rect x="1899.2" y="673.3" width="15.8" height="15.8"/><rect x="1912.8" y="691.3" width="15.8" height="15.8"/><rect x="1926.3" y="708.0" width="15.8" height="15.8"/><rect x="1939.9" y="721.3" width="15.8" height="15.8"/><rect x="1953.4" y="734.0" width="15.8" height="15.8"/><rect x="1967.0" y="747.3" width="15.8" height="15.8"/><rect x="1980.5" y="756.2" width="15.8" height="15.8"/><rect x="1994.1" y="763.8" width="15.8" height="15.8"/><rect x="2007.6" y="771.0" width="15.8" height="15.8"/><rect x="2021.2" y="777.1" width="15.8" height="15.8"/><rect x="2034.7" y="783.5" width="15.8" height="15.8"/></g>
<g fill="#fff" stroke="#8C00FF" stroke-width="5.3"><rect x="1812.4" y="559.7" width="15.8" height="15.8"/><rect x="1826.0" y="570.9" width="15.8" height="15.8"/><rect x="1839.5" y="584.5" width="15.8" height="15.8"/><rect x="1853.1" y="600.8" width="15.8" height="15.8"/><rect x="1866.7" y="622.4" width="15.8" height="15.8"/><rect x="1880.2" y="643.4" width="15.8" height="15.8"/><rect x="1893.8" y="665.4" width="15.8" height="15.8"/><rect x="1907.4" y="684.4" width="15.8" height="15.8"/><rect x="1921.0" y="701.3" width="15.8" height="15.8"/><rect x="1934.5" y="716.9" width="15.8" height="15.8"/><rect x="1948.1" y="728.2" width="15.8" height="15.8"/><rect x="1961.7" y="743.0" width="15.8" height="15.8"/><rect x="1975.2" y="752.9" width="15.8" height="15.8"/><rect x="1988.8" y="760.9" width="15.8" height="15.8"/></g>
<g fill="#fff" stroke="#808000" stroke-width="5.3"><rect x="1852.2" y="599.5" width="15.8" height="15.8"/><rect x="1865.8" y="620.9" width="15.8" height="15.8"/><rect x="1879.3" y="641.9" width="15.8" height="15.8"/><rect x="1892.9" y="664.0" width="15.8" height="15.8"/><rect x="1906.4" y="683.1" width="15.8" height="15.8"/><rect x="1920.0" y="700.2" width="15.8" height="15.8"/><rect x="1933.5" y="716.0" width="15.8" height="15.8"/><rect x="1947.1" y="727.2" width="15.8" height="15.8"/></g>
<g fill="#fff" stroke="#000000" stroke-width="5.3"><rect x="438.1" y="1322.7" width="15.8" height="15.8"/><rect x="452.7" y="1335.5" width="15.8" height="15.8"/><rect x="467.3" y="1344.2" width="15.8" height="15.8"/><rect x="482.0" y="1353.9" width="15.8" height="15.8"/><rect x="496.6" y="1361.1" width="15.8" height="15.8"/><rect x="511.2" y="1369.2" width="15.8" height="15.8"/><rect x="525.8" y="1376.5" width="15.8" height="15.8"/><rect x="540.4" y="1383.0" width="15.8" height="15.8"/><rect x="555.0" y="1389.4" width="15.8" height="15.8"/><rect x="569.6" y="1395.4" width="15.8" height="15.8"/><rect x="584.3" y="1404.2" width="15.8" height="15.8"/><rect x="598.9" y="1412.4" width="15.8" height="15.8"/><rect x="613.5" y="1421.3" width="15.8" height="15.8"/><rect x="628.1" y="1435.0" width="15.8" height="15.8"/><rect x="642.7" y="1450.1" width="15.8" height="15.8"/><rect x="657.3" y="1469.3" width="15.8" height="15.8"/><rect x="671.9" y="1488.0" width="15.8" height="15.8"/><rect x="686.5" y="1507.0" width="15.8" height="15.8"/><rect x="701.2" y="1525.8" width="15.8" height="15.8"/><rect x="715.8" y="1542.3" width="15.8" height="15.8"/><rect x="730.4" y="1558.2" width="15.8" height="15.8"/><rect x="745.0" y="1570.7" width="15.8" height="15.8"/><rect x="759.6" y="1586.2" width="15.8" height="15.8"/><rect x="774.2" y="1596.4" width="15.8" height="15.8"/><rect x="788.8" y="1608.0" width="15.8" height="15.8"/><rect x="803.5" y="1618.2" width="15.8" height="15.8"/><rect x="818.1" y="1627.1" width="15.8" height="15.8"/><rect x="832.7" y="1634.8" width="15.8" height="15.8"/><rect x="847.3" y="1642.9" width="15.8" height="15.8"/><rect x="861.9" y="1649.2" width="15.8" height="15.8"/><rect x="876.5" y="1654.9" width="15.8" height="15.8"/><rect x="891.1" y="1660.2" width="15.8" height="15.8"/><rect x="905.8" y="1665.5" width="15.8" height="15.8"/><rect x="920.4" y="1670.8" width="15.8" height="15.8"/><rect x="935.0" y="1674.0" width="15.8" height="15.8"/><rect x="949.6" y="1678.3" width="15.8" height="15.8"/><rect x="964.2" y="1681.6" width="15.8" height="15.8"/><rect x="978.8" y="1685.8" width="15.8" height="15.8"/><rect x="993.4" y="1688.7" width="15.8" height="15.8"/><rect x="1008.1" y="1692.1" width="15.8" height="15.8"/><rect x="1022.7" y="1695.1" width="15.8" height="15.8"/><rect x="1037.3" y="1696.8" width="15.8" height="15.8"/><rect x="1051.9" y="1698.3" width="15.8" height="15.8"/></g>
<g fill="#fff" stroke="#FF0000" stroke-width="5.3"><rect x="496.2" y="1330.3" width="15.8" height="15.8"/><rect x="510.9" y="1341.6" width="15.8" height="15.8"/><rect x="525.5" y="1350.3" width="15.8" height="15.8"/><rect x="540.1" y="1358.5" width="15.8" height="15.8"/><rect x="554.7" y="1366.6" width="15.8" height="15.8"/><rect x="569.4" y="1375.5" width="15.8" height="15.8"/><rect x="584.0" y="1384.8" width="15.8" height="15.8"/><rect x="598.6" y="1389.7" width="15.8" height="15.8"/><rect x="613.2" y="1393.4" width="15.8" height="15.8"/><rect x="627.9" y="1398.3" width="15.8" height="15.8"/><rect x="642.5" y="1405.8" width="15.8" height="15.8"/><rect x="657.1" y="1414.0" width="15.8" height="15.8"/><rect x="671.7" y="1422.8" width="15.8" height="15.8"/><rect x="686.3" y="1432.6" width="15.8" height="15.8"/><rect x="701.0" y="1443.1" width="15.8" height="15.8"/><rect x="715.6" y="1459.7" width="15.8" height="15.8"/><rect x="730.2" y="1477.5" width="15.8" height="15.8"/><rect x="744.8" y="1496.9" width="15.8" height="15.8"/><rect x="759.5" y="1514.3" width="15.8" height="15.8"/><rect x="774.1" y="1531.8" width="15.8" height="15.8"/><rect x="788.7" y="1548.0" width="15.8" height="15.8"/><rect x="803.3" y="1564.0" width="15.8" height="15.8"/><rect x="817.9" y="1578.5" width="15.8" height="15.8"/><rect x="832.6" y="1591.2" width="15.8" height="15.8"/><rect x="847.2" y="1602.5" width="15.8" height="15.8"/><rect x="861.8" y="1613.5" width="15.8" height="15.8"/><rect x="876.4" y="1623.6" width="15.8" height="15.8"/><rect x="891.1" y="1633.0" width="15.8" height="15.8"/><rect x="905.7" y="1640.2" width="15.8" height="15.8"/><rect x="920.3" y="1647.8" width="15.8" height="15.8"/><rect x="934.9" y="1654.0" width="15.8" height="15.8"/><rect x="949.5" y="1659.8" width="15.8" height="15.8"/><rect x="964.2" y="1665.4" width="15.8" height="15.8"/><rect x="978.8" y="1670.7" width="15.8" height="15.8"/><rect x="993.4" y="1675.8" width="15.8" height="15.8"/><rect x="1008.0" y="1680.7" width="15.8" height="15.8"/><rect x="1022.7" y="1685.3" width="15.8" height="15.8"/><rect x="1037.3" y="1688.0" width="15.8" height="15.8"/><rect x="1051.9" y="1690.1" width="15.8" height="15.8"/></g>
<g fill="#fff" stroke="#0000FF" stroke-width="5.3"><rect x="540.6" y="1338.0" width="15.8" height="15.8"/><rect x="555.2" y="1347.7" width="15.8" height="15.8"/><rect x="569.8" y="1357.5" width="15.8" height="15.8"/><rect x="584.4" y="1367.7" width="15.8" height="15.8"/><rect x="599.1" y="1377.3" width="15.8" height="15.8"/><rect x="613.7" y="1384.4" width="15.8" height="15.8"/><rect x="628.3" y="1390.6" width="15.8" height="15.8"/><rect x="642.9" y="1396.4" width="15.8" height="15.8"/><rect x="657.5" y="1401.9" width="15.8" height="15.8"/><rect x="672.1" y="1407.4" width="15.8" height="15.8"/><rect x="686.7" y="1412.6" width="15.8" height="15.8"/><rect x="701.3" y="1418.2" width="15.8" height="15.8"/><rect x="715.9" y="1424.6" width="15.8" height="15.8"/><rect x="730.5" y="1430.7" width="15.8" height="15.8"/><rect x="745.1" y="1440.5" width="15.8" height="15.8"/><rect x="759.7" y="1449.5" width="15.8" height="15.8"/><rect x="774.3" y="1461.5" width="15.8" height="15.8"/><rect x="789.0" y="1478.0" width="15.8" height="15.8"/><rect x="803.6" y="1495.8" width="15.8" height="15.8"/><rect x="818.2" y="1514.8" width="15.8" height="15.8"/><rect x="832.8" y="1529.4" width="15.8" height="15.8"/><rect x="847.4" y="1547.3" width="15.8" height="15.8"/><rect x="862.0" y="1564.5" width="15.8" height="15.8"/><rect x="876.6" y="1578.2" width="15.8" height="15.8"/><rect x="891.2" y="1592.1" width="15.8" height="15.8"/><rect x="905.8" y="1604.5" width="15.8" height="15.8"/><rect x="920.4" y="1615.7" width="15.8" height="15.8"/><rect x="935.0" y="1626.1" width="15.8" height="15.8"/><rect x="949.6" y="1635.3" width="15.8" height="15.8"/><rect x="964.3" y="1643.6" width="15.8" height="15.8"/><rect x="978.9" y="1650.2" width="15.8" height="15.8"/><rect x="993.5" y="1657.1" width="15.8" height="15.8"/><rect x="1008.1" y="1662.8" width="15.8" height="15.8"/><rect x="1022.7" y="1668.8" width="15.8" height="15.8"/><rect x="1037.3" y="1672.5" width="15.8" height="15.8"/><rect x="1051.9" y="1677.6" width="15.8" height="15.8"/></g>
<g fill="#fff" stroke="#FF00FF" stroke-width="5.3"><rect x="583.5" y="1350.2" width="15.8" height="15.8"/><rect x="598.1" y="1359.9" width="15.8" height="15.8"/><rect x="612.7" y="1367.2" width="15.8" height="15.8"/><rect x="627.4" y="1376.8" width="15.8" height="15.8"/><rect x="642.0" y="1382.7" width="15.8" height="15.8"/><rect x="656.7" y="1387.3" width="15.8" height="15.8"/><rect x="671.3" y="1391.2" width="15.8" height="15.8"/><rect x="685.9" y="1395.0" width="15.8" height="15.8"/><rect x="700.6" y="1399.1" width="15.8" height="15.8"/><rect x="715.2" y="1404.2" width="15.8" height="15.8"/><rect x="729.8" y="1410.9" width="15.8" height="15.8"/><rect x="744.5" y="1419.2" width="15.8" height="15.8"/><rect x="759.1" y="1427.4" width="15.8" height="15.8"/><rect x="773.8" y="1435.2" width="15.8" height="15.8"/><rect x="788.4" y="1442.8" width="15.8" height="15.8"/><rect x="803.0" y="1450.1" width="15.8" height="15.8"/><rect x="817.7" y="1460.2" width="15.8" height="15.8"/><rect x="832.3" y="1473.7" width="15.8" height="15.8"/><rect x="847.0" y="1489.9" width="15.8" height="15.8"/><rect x="861.6" y="1504.6" width="15.8" height="15.8"/><rect x="876.2" y="1522.4" width="15.8" height="15.8"/><rect x="890.9" y="1538.5" width="15.8" height="15.8"/><rect x="905.5" y="1554.6" width="15.8" height="15.8"/><rect x="920.2" y="1570.6" width="15.8" height="15.8"/><rect x="934.8" y="1583.8" width="15.8" height="15.8"/><rect x="949.4" y="1600.5" width="15.8" height="15.8"/><rect x="964.1" y="1612.0" width="15.8" height="15.8"/><rect x="978.7" y="1622.2" width="15.8" height="15.8"/><rect x="993.3" y="1632.7" width="15.8" height="15.8"/><rect x="1008.0" y="1641.7" width="15.8" height="15.8"/><rect x="1022.6" y="1648.9" width="15.8" height="15.8"/><rect x="1037.3" y="1657.0" width="15.8" height="15.8"/><rect x="1051.9" y="1662.4" width="15.8" height="15.8"/></g>
<g fill="#fff" stroke="#008000" stroke-width="5.3"><rect x="627.8" y="1362.5" width="15.8" height="15.8"/><rect x="642.5" y="1373.8" width="15.8" height="15.8"/><rect x="657.1" y="1384.0" width="15.8" height="15.8"/><rect x="671.7" y="1393.6" width="15.8" height="15.8"/><rect x="686.3" y="1400.2" width="15.8" height="15.8"/><rect x="700.9" y="1405.9" width="15.8" height="15.8"/><rect x="715.6" y="1410.9" width="15.8" height="15.8"/><rect x="730.2" y="1415.3" width="15.8" height="15.8"/><rect x="744.8" y="1419.5" width="15.8" height="15.8"/><rect x="759.4" y="1423.4" width="15.8" height="15.8"/><rect x="774.1" y="1427.5" width="15.8" height="15.8"/><rect x="788.7" y="1431.9" width="15.8" height="15.8"/><rect x="803.3" y="1436.7" width="15.8" height="15.8"/><rect x="817.9" y="1442.3" width="15.8" height="15.8"/><rect x="832.6" y="1448.8" width="15.8" height="15.8"/><rect x="847.2" y="1457.7" width="15.8" height="15.8"/><rect x="861.8" y="1465.9" width="15.8" height="15.8"/><rect x="876.4" y="1477.5" width="15.8" height="15.8"/><rect x="891.0" y="1489.3" width="15.8" height="15.8"/><rect x="905.7" y="1502.6" width="15.8" height="15.8"/><rect x="920.3" y="1518.9" width="15.8" height="15.8"/><rect x="934.9" y="1535.1" width="15.8" height="15.8"/><rect x="949.5" y="1552.9" width="15.8" height="15.8"/><rect x="964.2" y="1568.9" width="15.8" height="15.8"/><rect x="978.8" y="1585.0" width="15.8" height="15.8"/><rect x="993.4" y="1599.4" width="15.8" height="15.8"/><rect x="1008.0" y="1610.3" width="15.8" height="15.8"/><rect x="1022.7" y="1621.8" width="15.8" height="15.8"/><rect x="1037.3" y="1631.7" width="15.8" height="15.8"/><rect x="1051.9" y="1640.5" width="15.8" height="15.8"/></g>
<g fill="#fff" stroke="#000080" stroke-width="5.3"><rect x="670.7" y="1387.0" width="15.8" height="15.8"/><rect x="685.3" y="1392.8" width="15.8" height="15.8"/><rect x="700.0" y="1400.8" width="15.8" height="15.8"/><rect x="714.7" y="1406.7" width="15.8" height="15.8"/><rect x="729.3" y="1411.6" width="15.8" height="15.8"/><rect x="744.0" y="1416.0" width="15.8" height="15.8"/><rect x="758.6" y="1420.0" width="15.8" height="15.8"/><rect x="773.3" y="1423.7" width="15.8" height="15.8"/><rect x="788.0" y="1427.3" width="15.8" height="15.8"/><rect x="802.6" y="1430.9" width="15.8" height="15.8"/><rect x="817.3" y="1434.8" width="15.8" height="15.8"/><rect x="832.0" y="1439.0" width="15.8" height="15.8"/><rect x="846.6" y="1443.6" width="15.8" height="15.8"/><rect x="861.3" y="1449.0" width="15.8" height="15.8"/><rect x="875.9" y="1455.1" width="15.8" height="15.8"/><rect x="890.6" y="1464.1" width="15.8" height="15.8"/><rect x="905.3" y="1473.0" width="15.8" height="15.8"/><rect x="919.9" y="1484.5" width="15.8" height="15.8"/><rect x="934.6" y="1496.2" width="15.8" height="15.8"/><rect x="949.3" y="1509.3" width="15.8" height="15.8"/><rect x="963.9" y="1522.6" width="15.8" height="15.8"/><rect x="978.6" y="1538.9" width="15.8" height="15.8"/><rect x="993.2" y="1553.5" width="15.8" height="15.8"/><rect x="1007.9" y="1568.2" width="15.8" height="15.8"/><rect x="1022.6" y="1584.5" width="15.8" height="15.8"/><rect x="1037.2" y="1600.3" width="15.8" height="15.8"/><rect x="1051.9" y="1611.7" width="15.8" height="15.8"/></g>
<g fill="#fff" stroke="#8C00FF" stroke-width="5.3"><rect x="715.0" y="1411.4" width="15.8" height="15.8"/><rect x="729.7" y="1414.4" width="15.8" height="15.8"/><rect x="744.3" y="1416.1" width="15.8" height="15.8"/><rect x="759.0" y="1419.0" width="15.8" height="15.8"/><rect x="773.6" y="1422.2" width="15.8" height="15.8"/><rect x="788.3" y="1425.2" width="15.8" height="15.8"/><rect x="802.9" y="1426.8" width="15.8" height="15.8"/><rect x="817.6" y="1429.8" width="15.8" height="15.8"/><rect x="832.2" y="1433.1" width="15.8" height="15.8"/><rect x="846.9" y="1437.1" width="15.8" height="15.8"/><rect x="861.5" y="1441.6" width="15.8" height="15.8"/><rect x="876.1" y="1446.5" width="15.8" height="15.8"/><rect x="890.8" y="1451.7" width="15.8" height="15.8"/><rect x="905.4" y="1457.4" width="15.8" height="15.8"/><rect x="920.1" y="1464.3" width="15.8" height="15.8"/><rect x="934.7" y="1473.2" width="15.8" height="15.8"/><rect x="949.4" y="1482.9" width="15.8" height="15.8"/><rect x="964.0" y="1491.9" width="15.8" height="15.8"/><rect x="978.7" y="1504.6" width="15.8" height="15.8"/><rect x="993.3" y="1513.5" width="15.8" height="15.8"/><rect x="1008.0" y="1528.5" width="15.8" height="15.8"/><rect x="1022.6" y="1544.6" width="15.8" height="15.8"/><rect x="1037.3" y="1559.3" width="15.8" height="15.8"/><rect x="1051.9" y="1577.0" width="15.8" height="15.8"/></g>
<g fill="#fff" stroke="#808000" stroke-width="5.3"><rect x="846.6" y="1428.3" width="15.8" height="15.8"/><rect x="861.3" y="1434.8" width="15.8" height="15.8"/><rect x="875.9" y="1440.6" width="15.8" height="15.8"/><rect x="890.6" y="1443.8" width="15.8" height="15.8"/><rect x="905.3" y="1446.7" width="15.8" height="15.8"/><rect x="919.9" y="1450.1" width="15.8" height="15.8"/><rect x="934.6" y="1454.5" width="15.8" height="15.8"/><rect x="949.3" y="1459.4" width="15.8" height="15.8"/><rect x="963.9" y="1463.8" width="15.8" height="15.8"/><rect x="978.6" y="1469.8" width="15.8" height="15.8"/><rect x="993.2" y="1479.6" width="15.8" height="15.8"/><rect x="1007.9" y="1490.0" width="15.8" height="15.8"/><rect x="1022.6" y="1504.8" width="15.8" height="15.8"/><rect x="1037.2" y="1519.6" width="15.8" height="15.8"/><rect x="1051.9" y="1540.4" width="15.8" height="15.8"/></g>
<g fill="#fff" stroke="#000000" stroke-width="5.3"><rect x="1648.5" y="1224.3" width="15.8" height="15.8"/><rect x="1661.9" y="1255.8" width="15.8" height="15.8"/><rect x="1675.4" y="1284.3" width="15.8" height="15.8"/><rect x="1689.0" y="1303.3" width="15.8" height="15.8"/><rect x="1702.5" y="1317.4" width="15.8" height="15.8"/><rect x="1716.1" y="1328.7" width="15.8" height="15.8"/><rect x="1729.7" y="1338.4" width="15.8" height="15.8"/><rect x="1743.2" y="1347.4" width="15.8" height="15.8"/><rect x="1756.8" y="1355.7" width="15.8" height="15.8"/><rect x="1770.4" y="1364.6" width="15.8" height="15.8"/><rect x="1783.9" y="1374.0" width="15.8" height="15.8"/><rect x="1797.5" y="1385.2" width="15.8" height="15.8"/><rect x="1811.0" y="1398.4" width="15.8" height="15.8"/><rect x="1824.6" y="1414.5" width="15.8" height="15.8"/><rect x="1838.2" y="1434.1" width="15.8" height="15.8"/><rect x="1851.7" y="1455.9" width="15.8" height="15.8"/><rect x="1865.3" y="1479.2" width="15.8" height="15.8"/><rect x="1878.8" y="1500.2" width="15.8" height="15.8"/><rect x="1892.4" y="1520.3" width="15.8" height="15.8"/><rect x="1906.0" y="1540.0" width="15.8" height="15.8"/><rect x="1919.5" y="1559.2" width="15.8" height="15.8"/><rect x="1933.1" y="1576.4" width="15.8" height="15.8"/><rect x="1946.7" y="1591.5" width="15.8" height="15.8"/><rect x="1960.2" y="1605.1" width="15.8" height="15.8"/><rect x="1973.8" y="1617.9" width="15.8" height="15.8"/><rect x="1987.3" y="1628.9" width="15.8" height="15.8"/><rect x="2000.9" y="1637.5" width="15.8" height="15.8"/><rect x="2014.5" y="1644.9" width="15.8" height="15.8"/><rect x="2028.0" y="1651.4" width="15.8" height="15.8"/><rect x="2041.6" y="1657.0" width="15.8" height="15.8"/><rect x="2055.1" y="1661.9" width="15.8" height="15.8"/><rect x="2068.7" y="1666.3" width="15.8" height="15.8"/><rect x="2082.3" y="1670.2" width="15.8" height="15.8"/><rect x="2095.8" y="1673.7" width="15.8" height="15.8"/><rect x="2109.4" y="1676.8" width="15.8" height="15.8"/><rect x="2122.9" y="1679.8" width="15.8" height="15.8"/><rect x="2136.5" y="1682.6" width="15.8" height="15.8"/><rect x="2150.1" y="1685.1" width="15.8" height="15.8"/><rect x="2163.6" y="1687.2" width="15.8" height="15.8"/><rect x="2177.2" y="1689.0" width="15.8" height="15.8"/><rect x="2190.8" y="1690.5" width="15.8" height="15.8"/><rect x="2204.3" y="1691.8" width="15.8" height="15.8"/><rect x="2217.9" y="1693.0" width="15.8" height="15.8"/><rect x="2231.4" y="1694.0" width="15.8" height="15.8"/><rect x="2245.0" y="1694.9" width="15.8" height="15.8"/></g>
<g fill="#fff" stroke="#FF0000" stroke-width="5.3"><rect x="1656.6" y="1250.6" width="15.8" height="15.8"/><rect x="1667.9" y="1270.2" width="15.8" height="15.8"/><rect x="1681.5" y="1291.3" width="15.8" height="15.8"/><rect x="1695.0" y="1306.0" width="15.8" height="15.8"/><rect x="1708.6" y="1317.8" width="15.8" height="15.8"/><rect x="1722.2" y="1327.7" width="15.8" height="15.8"/><rect x="1735.8" y="1336.9" width="15.8" height="15.8"/><rect x="1749.4" y="1345.6" width="15.8" height="15.8"/><rect x="1763.0" y="1354.4" width="15.8" height="15.8"/><rect x="1776.5" y="1363.7" width="15.8" height="15.8"/><rect x="1790.1" y="1374.3" width="15.8" height="15.8"/><rect x="1803.7" y="1386.9" width="15.8" height="15.8"/><rect x="1817.3" y="1401.7" width="15.8" height="15.8"/><rect x="1830.9" y="1420.2" width="15.8" height="15.8"/><rect x="1844.4" y="1441.0" width="15.8" height="15.8"/><rect x="1858.0" y="1464.0" width="15.8" height="15.8"/><rect x="1871.6" y="1486.6" width="15.8" height="15.8"/><rect x="1885.2" y="1508.0" width="15.8" height="15.8"/><rect x="1898.8" y="1528.7" width="15.8" height="15.8"/><rect x="1912.3" y="1549.0" width="15.8" height="15.8"/><rect x="1925.9" y="1567.6" width="15.8" height="15.8"/><rect x="1939.5" y="1583.8" width="15.8" height="15.8"/><rect x="1953.1" y="1598.3" width="15.8" height="15.8"/><rect x="1966.7" y="1611.5" width="15.8" height="15.8"/><rect x="1980.3" y="1623.6" width="15.8" height="15.8"/><rect x="1993.8" y="1633.3" width="15.8" height="15.8"/><rect x="2007.4" y="1641.3" width="15.8" height="15.8"/><rect x="2021.0" y="1648.4" width="15.8" height="15.8"/><rect x="2034.6" y="1654.5" width="15.8" height="15.8"/><rect x="2048.2" y="1659.7" width="15.8" height="15.8"/><rect x="2061.7" y="1664.2" width="15.8" height="15.8"/><rect x="2075.3" y="1668.4" width="15.8" height="15.8"/><rect x="2088.9" y="1672.1" width="15.8" height="15.8"/><rect x="2102.5" y="1675.5" width="15.8" height="15.8"/><rect x="2116.1" y="1678.6" width="15.8" height="15.8"/><rect x="2129.7" y="1681.5" width="15.8" height="15.8"/><rect x="2143.2" y="1684.1" width="15.8" height="15.8"/><rect x="2156.8" y="1686.3" width="15.8" height="15.8"/><rect x="2170.4" y="1688.2" width="15.8" height="15.8"/></g>
<g fill="#fff" stroke="#0000FF" stroke-width="5.3"><rect x="1659.6" y="1265.6" width="15.8" height="15.8"/><rect x="1665.5" y="1267.2" width="15.8" height="15.8"/><rect x="1678.8" y="1286.1" width="15.8" height="15.8"/><rect x="1692.2" y="1299.5" width="15.8" height="15.8"/><rect x="1705.5" y="1310.5" width="15.8" height="15.8"/><rect x="1718.9" y="1320.0" width="15.8" height="15.8"/><rect x="1732.3" y="1328.9" width="15.8" height="15.8"/><rect x="1745.6" y="1337.6" width="15.8" height="15.8"/><rect x="1759.0" y="1346.4" width="15.8" height="15.8"/><rect x="1772.4" y="1355.7" width="15.8" height="15.8"/><rect x="1785.7" y="1365.9" width="15.8" height="15.8"/><rect x="1799.1" y="1378.0" width="15.8" height="15.8"/><rect x="1812.4" y="1392.3" width="15.8" height="15.8"/><rect x="1825.8" y="1409.6" width="15.8" height="15.8"/><rect x="1839.2" y="1429.9" width="15.8" height="15.8"/><rect x="1852.5" y="1451.7" width="15.8" height="15.8"/><rect x="1865.9" y="1474.6" width="15.8" height="15.8"/><rect x="1879.2" y="1496.6" width="15.8" height="15.8"/><rect x="1892.6" y="1518.2" width="15.8" height="15.8"/><rect x="1906.0" y="1539.1" width="15.8" height="15.8"/><rect x="1919.3" y="1558.7" width="15.8" height="15.8"/><rect x="1932.7" y="1575.8" width="15.8" height="15.8"/><rect x="1946.1" y="1591.2" width="15.8" height="15.8"/><rect x="1959.4" y="1604.7" width="15.8" height="15.8"/><rect x="1972.8" y="1617.2" width="15.8" height="15.8"/><rect x="1986.1" y="1628.3" width="15.8" height="15.8"/><rect x="1999.5" y="1636.8" width="15.8" height="15.8"/><rect x="2012.9" y="1644.5" width="15.8" height="15.8"/><rect x="2026.2" y="1651.1" width="15.8" height="15.8"/><rect x="2039.6" y="1656.8" width="15.8" height="15.8"/><rect x="2053.0" y="1661.6" width="15.8" height="15.8"/><rect x="2066.3" y="1665.8" width="15.8" height="15.8"/><rect x="2079.7" y="1669.7" width="15.8" height="15.8"/><rect x="2093.0" y="1673.4" width="15.8" height="15.8"/><rect x="2106.4" y="1676.7" width="15.8" height="15.8"/></g>
<g fill="#fff" stroke="#FF00FF" stroke-width="5.3"><rect x="1654.1" y="1271.1" width="15.8" height="15.8"/><rect x="1665.7" y="1269.2" width="15.8" height="15.8"/><rect x="1679.4" y="1284.8" width="15.8" height="15.8"/><rect x="1693.0" y="1296.5" width="15.8" height="15.8"/><rect x="1706.7" y="1306.5" width="15.8" height="15.8"/><rect x="1720.3" y="1315.5" width="15.8" height="15.8"/><rect x="1734.0" y="1324.4" width="15.8" height="15.8"/><rect x="1747.6" y="1333.3" width="15.8" height="15.8"/><rect x="1761.3" y="1342.6" width="15.8" height="15.8"/><rect x="1774.9" y="1352.5" width="15.8" height="15.8"/><rect x="1788.5" y="1363.6" width="15.8" height="15.8"/><rect x="1802.2" y="1377.0" width="15.8" height="15.8"/><rect x="1815.8" y="1392.7" width="15.8" height="15.8"/><rect x="1829.5" y="1411.9" width="15.8" height="15.8"/><rect x="1843.1" y="1433.4" width="15.8" height="15.8"/><rect x="1856.8" y="1456.2" width="15.8" height="15.8"/><rect x="1870.4" y="1479.5" width="15.8" height="15.8"/><rect x="1884.1" y="1502.7" width="15.8" height="15.8"/><rect x="1897.7" y="1525.3" width="15.8" height="15.8"/><rect x="1911.4" y="1546.9" width="15.8" height="15.8"/><rect x="1925.0" y="1566.2" width="15.8" height="15.8"/><rect x="1938.6" y="1582.8" width="15.8" height="15.8"/><rect x="1952.3" y="1597.9" width="15.8" height="15.8"/><rect x="1965.9" y="1611.0" width="15.8" height="15.8"/><rect x="1979.6" y="1623.5" width="15.8" height="15.8"/><rect x="1993.2" y="1633.0" width="15.8" height="15.8"/><rect x="2006.9" y="1641.2" width="15.8" height="15.8"/><rect x="2020.5" y="1648.6" width="15.8" height="15.8"/><rect x="2034.2" y="1654.8" width="15.8" height="15.8"/><rect x="2047.8" y="1660.1" width="15.8" height="15.8"/></g>
<g fill="#fff" stroke="#008000" stroke-width="5.3"><rect x="1653.1" y="1273.1" width="15.8" height="15.8"/><rect x="1665.3" y="1270.4" width="15.8" height="15.8"/><rect x="1678.6" y="1282.2" width="15.8" height="15.8"/><rect x="1691.8" y="1291.9" width="15.8" height="15.8"/><rect x="1705.1" y="1300.6" width="15.8" height="15.8"/><rect x="1718.3" y="1308.9" width="15.8" height="15.8"/><rect x="1731.6" y="1317.2" width="15.8" height="15.8"/><rect x="1744.8" y="1325.9" width="15.8" height="15.8"/><rect x="1758.1" y="1335.0" width="15.8" height="15.8"/><rect x="1771.3" y="1344.8" width="15.8" height="15.8"/><rect x="1784.6" y="1355.4" width="15.8" height="15.8"/><rect x="1797.8" y="1368.1" width="15.8" height="15.8"/><rect x="1811.1" y="1383.1" width="15.8" height="15.8"/><rect x="1824.3" y="1400.9" width="15.8" height="15.8"/><rect x="1837.6" y="1421.7" width="15.8" height="15.8"/><rect x="1850.8" y="1443.3" width="15.8" height="15.8"/><rect x="1864.1" y="1466.0" width="15.8" height="15.8"/><rect x="1877.3" y="1489.1" width="15.8" height="15.8"/><rect x="1890.6" y="1512.3" width="15.8" height="15.8"/><rect x="1903.8" y="1534.7" width="15.8" height="15.8"/><rect x="1917.1" y="1555.2" width="15.8" height="15.8"/><rect x="1930.3" y="1572.9" width="15.8" height="15.8"/><rect x="1943.6" y="1588.6" width="15.8" height="15.8"/><rect x="1956.8" y="1602.6" width="15.8" height="15.8"/><rect x="1970.1" y="1615.0" width="15.8" height="15.8"/><rect x="1983.3" y="1626.7" width="15.8" height="15.8"/><rect x="1996.6" y="1635.1" width="15.8" height="15.8"/></g>
<g fill="#fff" stroke="#000080" stroke-width="5.3"><rect x="1654.1" y="1272.1" width="15.8" height="15.8"/><rect x="1665.7" y="1272.3" width="15.8" height="15.8"/><rect x="1679.2" y="1280.8" width="15.8" height="15.8"/><rect x="1692.8" y="1288.7" width="15.8" height="15.8"/><rect x="1706.4" y="1296.6" width="15.8" height="15.8"/><rect x="1720.0" y="1304.5" width="15.8" height="15.8"/><rect x="1733.5" y="1312.8" width="15.8" height="15.8"/><rect x="1747.1" y="1321.8" width="15.8" height="15.8"/><rect x="1760.7" y="1331.6" width="15.8" height="15.8"/><rect x="1774.3" y="1341.9" width="15.8" height="15.8"/><rect x="1787.8" y="1353.6" width="15.8" height="15.8"/><rect x="1801.4" y="1367.7" width="15.8" height="15.8"/><rect x="1815.0" y="1384.3" width="15.8" height="15.8"/><rect x="1828.5" y="1404.2" width="15.8" height="15.8"/><rect x="1842.1" y="1426.2" width="15.8" height="15.8"/><rect x="1855.7" y="1448.7" width="15.8" height="15.8"/><rect x="1869.3" y="1472.2" width="15.8" height="15.8"/><rect x="1882.8" y="1496.9" width="15.8" height="15.8"/><rect x="1896.4" y="1521.3" width="15.8" height="15.8"/><rect x="1910.0" y="1544.2" width="15.8" height="15.8"/><rect x="1923.6" y="1564.1" width="15.8" height="15.8"/><rect x="1937.1" y="1581.0" width="15.8" height="15.8"/><rect x="1950.7" y="1596.6" width="15.8" height="15.8"/></g>
<g fill="#fff" stroke="#8C00FF" stroke-width="5.3"><rect x="1652.8" y="1268.8" width="15.8" height="15.8"/><rect x="1666.0" y="1274.1" width="15.8" height="15.8"/><rect x="1679.5" y="1279.0" width="15.8" height="15.8"/><rect x="1693.0" y="1285.1" width="15.8" height="15.8"/><rect x="1706.5" y="1291.9" width="15.8" height="15.8"/><rect x="1720.0" y="1299.1" width="15.8" height="15.8"/><rect x="1733.5" y="1307.1" width="15.8" height="15.8"/><rect x="1747.0" y="1316.1" width="15.8" height="15.8"/><rect x="1760.5" y="1326.1" width="15.8" height="15.8"/><rect x="1774.0" y="1336.7" width="15.8" height="15.8"/><rect x="1787.6" y="1348.6" width="15.8" height="15.8"/><rect x="1801.1" y="1363.0" width="15.8" height="15.8"/><rect x="1814.6" y="1380.0" width="15.8" height="15.8"/><rect x="1828.1" y="1400.2" width="15.8" height="15.8"/><rect x="1841.6" y="1422.5" width="15.8" height="15.8"/><rect x="1855.1" y="1444.9" width="15.8" height="15.8"/><rect x="1868.6" y="1468.3" width="15.8" height="15.8"/><rect x="1882.1" y="1493.6" width="15.8" height="15.8"/><rect x="1895.6" y="1518.8" width="15.8" height="15.8"/><rect x="1909.1" y="1542.5" width="15.8" height="15.8"/></g>
<g fill="#fff" stroke="#808000" stroke-width="5.3"><rect x="1655.5" y="1217.6" width="15.8" height="15.8"/><rect x="1668.6" y="1236.1" width="15.8" height="15.8"/><rect x="1682.1" y="1254.1" width="15.8" height="15.8"/><rect x="1695.6" y="1270.4" width="15.8" height="15.8"/><rect x="1709.1" y="1282.2" width="15.8" height="15.8"/><rect x="1722.6" y="1291.2" width="15.8" height="15.8"/><rect x="1736.1" y="1298.0" width="15.8" height="15.8"/><rect x="1749.6" y="1306.1" width="15.8" height="15.8"/><rect x="1763.1" y="1314.5" width="15.8" height="15.8"/><rect x="1776.7" y="1324.3" width="15.8" height="15.8"/><rect x="1790.2" y="1335.9" width="15.8" height="15.8"/><rect x="1803.7" y="1351.0" width="15.8" height="15.8"/><rect x="1817.2" y="1370.6" width="15.8" height="15.8"/><rect x="1830.7" y="1392.1" width="15.8" height="15.8"/><rect x="1844.2" y="1417.3" width="15.8" height="15.8"/><rect x="1857.7" y="1444.4" width="15.8" height="15.8"/><rect x="1871.2" y="1469.6" width="15.8" height="15.8"/></g>
<rect x="180.3" y="215.7" width="960.0" height="675.8" fill="none" stroke="#000" stroke-width="6.9" stroke-linejoin="round"/>
<path d="M320.3,891.5v-13.5M320.3,215.7v13.5M506.7,891.5v-13.5M506.7,215.7v13.5M693.2,891.5v-13.5M693.2,215.7v13.5M879.6,891.5v-13.5M879.6,215.7v13.5M1066.0,891.5v-13.5M1066.0,215.7v13.5M208.4,891.5v-6.8M208.4,215.7v6.8M245.7,891.5v-6.8M245.7,215.7v6.8M283.0,891.5v-6.8M283.0,215.7v6.8M357.6,891.5v-6.8M357.6,215.7v6.8M394.9,891.5v-6.8M394.9,215.7v6.8M432.2,891.5v-6.8M432.2,215.7v6.8M469.4,891.5v-6.8M469.4,215.7v6.8M544.0,891.5v-6.8M544.0,215.7v6.8M581.3,891.5v-6.8M581.3,215.7v6.8M618.6,891.5v-6.8M618.6,215.7v6.8M655.9,891.5v-6.8M655.9,215.7v6.8M730.4,891.5v-6.8M730.4,215.7v6.8M767.7,891.5v-6.8M767.7,215.7v6.8M805.0,891.5v-6.8M805.0,215.7v6.8M842.3,891.5v-6.8M842.3,215.7v6.8M916.9,891.5v-6.8M916.9,215.7v6.8M954.1,891.5v-6.8M954.1,215.7v6.8M991.4,891.5v-6.8M991.4,215.7v6.8M1028.7,891.5v-6.8M1028.7,215.7v6.8M1103.3,891.5v-6.8M1103.3,215.7v6.8M180.3,779.0h13.5M1140.3,779.0h-13.5M180.3,591.2h13.5M1140.3,591.2h-13.5M180.3,403.5h13.5M1140.3,403.5h-13.5M180.3,215.7h13.5M1140.3,215.7h-13.5M180.3,854.1h6.8M1140.3,854.1h-6.8M180.3,816.6h6.8M1140.3,816.6h-6.8M180.3,741.4h6.8M1140.3,741.4h-6.8M180.3,703.9h6.8M1140.3,703.9h-6.8M180.3,666.3h6.8M1140.3,666.3h-6.8M180.3,628.8h6.8M1140.3,628.8h-6.8M180.3,553.7h6.8M1140.3,553.7h-6.8M180.3,516.1h6.8M1140.3,516.1h-6.8M180.3,478.6h6.8M1140.3,478.6h-6.8M180.3,441.0h6.8M1140.3,441.0h-6.8M180.3,365.9h6.8M1140.3,365.9h-6.8M180.3,328.4h6.8M1140.3,328.4h-6.8M180.3,290.8h6.8M1140.3,290.8h-6.8M180.3,253.3h6.8M1140.3,253.3h-6.8" stroke="#000" stroke-width="6.2" stroke-linecap="round" fill="none"/>
<rect x="179.6" y="1087.8" width="960.2" height="675.4" fill="none" stroke="#000" stroke-width="6.9" stroke-linejoin="round"/>
<path d="M259.4,1763.2v-13.5M259.4,1087.8v13.5M459.5,1763.2v-13.5M459.5,1087.8v13.5M659.6,1763.2v-13.5M659.6,1087.8v13.5M859.7,1763.2v-13.5M859.7,1087.8v13.5M1059.8,1763.2v-13.5M1059.8,1087.8v13.5M219.4,1763.2v-6.8M219.4,1087.8v6.8M299.4,1763.2v-6.8M299.4,1087.8v6.8M339.4,1763.2v-6.8M339.4,1087.8v6.8M379.5,1763.2v-6.8M379.5,1087.8v6.8M419.5,1763.2v-6.8M419.5,1087.8v6.8M499.5,1763.2v-6.8M499.5,1087.8v6.8M539.5,1763.2v-6.8M539.5,1087.8v6.8M579.6,1763.2v-6.8M579.6,1087.8v6.8M619.6,1763.2v-6.8M619.6,1087.8v6.8M699.6,1763.2v-6.8M699.6,1087.8v6.8M739.6,1763.2v-6.8M739.6,1087.8v6.8M779.7,1763.2v-6.8M779.7,1087.8v6.8M819.7,1763.2v-6.8M819.7,1087.8v6.8M899.7,1763.2v-6.8M899.7,1087.8v6.8M939.7,1763.2v-6.8M939.7,1087.8v6.8M979.8,1763.2v-6.8M979.8,1087.8v6.8M1019.8,1763.2v-6.8M1019.8,1087.8v6.8M1099.8,1763.2v-6.8M1099.8,1087.8v6.8M179.6,1688.5h13.5M1139.8,1688.5h-13.5M179.6,1500.4h13.5M1139.8,1500.4h-13.5M179.6,1312.3h13.5M1139.8,1312.3h-13.5M179.6,1124.2h13.5M1139.8,1124.2h-13.5M179.6,1726.1h6.8M1139.8,1726.1h-6.8M179.6,1650.9h6.8M1139.8,1650.9h-6.8M179.6,1613.3h6.8M1139.8,1613.3h-6.8M179.6,1575.6h6.8M1139.8,1575.6h-6.8M179.6,1538.0h6.8M1139.8,1538.0h-6.8M179.6,1462.8h6.8M1139.8,1462.8h-6.8M179.6,1425.2h6.8M1139.8,1425.2h-6.8M179.6,1387.5h6.8M1139.8,1387.5h-6.8M179.6,1349.9h6.8M1139.8,1349.9h-6.8M179.6,1274.7h6.8M1139.8,1274.7h-6.8M179.6,1237.1h6.8M1139.8,1237.1h-6.8M179.6,1199.4h6.8M1139.8,1199.4h-6.8M179.6,1161.8h6.8M1139.8,1161.8h-6.8" stroke="#000" stroke-width="6.2" stroke-linecap="round" fill="none"/>
<rect x="1476.8" y="215.8" width="960.2" height="675.5" fill="none" stroke="#000" stroke-width="6.9" stroke-linejoin="round"/>
<path d="M1476.8,891.3v-13.5M1476.8,215.8v13.5M1661.4,891.3v-13.5M1661.4,215.8v13.5M1846.0,891.3v-13.5M1846.0,215.8v13.5M2030.5,891.3v-13.5M2030.5,215.8v13.5M2215.1,891.3v-13.5M2215.1,215.8v13.5M2399.7,891.3v-13.5M2399.7,215.8v13.5M1513.7,891.3v-6.8M1513.7,215.8v6.8M1550.6,891.3v-6.8M1550.6,215.8v6.8M1587.5,891.3v-6.8M1587.5,215.8v6.8M1624.5,891.3v-6.8M1624.5,215.8v6.8M1698.3,891.3v-6.8M1698.3,215.8v6.8M1735.2,891.3v-6.8M1735.2,215.8v6.8M1772.1,891.3v-6.8M1772.1,215.8v6.8M1809.0,891.3v-6.8M1809.0,215.8v6.8M1882.9,891.3v-6.8M1882.9,215.8v6.8M1919.8,891.3v-6.8M1919.8,215.8v6.8M1956.7,891.3v-6.8M1956.7,215.8v6.8M1993.6,891.3v-6.8M1993.6,215.8v6.8M2067.5,891.3v-6.8M2067.5,215.8v6.8M2104.4,891.3v-6.8M2104.4,215.8v6.8M2141.3,891.3v-6.8M2141.3,215.8v6.8M2178.2,891.3v-6.8M2178.2,215.8v6.8M2252.0,891.3v-6.8M2252.0,215.8v6.8M2289.0,891.3v-6.8M2289.0,215.8v6.8M2325.9,891.3v-6.8M2325.9,215.8v6.8M2362.8,891.3v-6.8M2362.8,215.8v6.8M1476.8,831.4h13.5M2437.0,831.4h-13.5M1476.8,650.5h13.5M2437.0,650.5h-13.5M1476.8,469.5h13.5M2437.0,469.5h-13.5M1476.8,288.6h13.5M2437.0,288.6h-13.5M1476.8,867.6h6.8M2437.0,867.6h-6.8M1476.8,795.2h6.8M2437.0,795.2h-6.8M1476.8,759.0h6.8M2437.0,759.0h-6.8M1476.8,722.8h6.8M2437.0,722.8h-6.8M1476.8,686.7h6.8M2437.0,686.7h-6.8M1476.8,614.3h6.8M2437.0,614.3h-6.8M1476.8,578.1h6.8M2437.0,578.1h-6.8M1476.8,541.9h6.8M2437.0,541.9h-6.8M1476.8,505.7h6.8M2437.0,505.7h-6.8M1476.8,433.3h6.8M2437.0,433.3h-6.8M1476.8,397.2h6.8M2437.0,397.2h-6.8M1476.8,361.0h6.8M2437.0,361.0h-6.8M1476.8,324.8h6.8M2437.0,324.8h-6.8M1476.8,252.4h6.8M2437.0,252.4h-6.8" stroke="#000" stroke-width="6.2" stroke-linecap="round" fill="none"/>
<rect x="1476.8" y="1088.0" width="960.2" height="675.0" fill="none" stroke="#000" stroke-width="6.9" stroke-linejoin="round"/>
<path d="M1476.8,1763.0v-13.5M1476.8,1088.0v13.5M1661.4,1763.0v-13.5M1661.4,1088.0v13.5M1846.0,1763.0v-13.5M1846.0,1088.0v13.5M2030.5,1763.0v-13.5M2030.5,1088.0v13.5M2215.1,1763.0v-13.5M2215.1,1088.0v13.5M2399.7,1763.0v-13.5M2399.7,1088.0v13.5M1513.7,1763.0v-6.8M1513.7,1088.0v6.8M1550.6,1763.0v-6.8M1550.6,1088.0v6.8M1587.5,1763.0v-6.8M1587.5,1088.0v6.8M1624.5,1763.0v-6.8M1624.5,1088.0v6.8M1698.3,1763.0v-6.8M1698.3,1088.0v6.8M1735.2,1763.0v-6.8M1735.2,1088.0v6.8M1772.1,1763.0v-6.8M1772.1,1088.0v6.8M1809.0,1763.0v-6.8M1809.0,1088.0v6.8M1882.9,1763.0v-6.8M1882.9,1088.0v6.8M1919.8,1763.0v-6.8M1919.8,1088.0v6.8M1956.7,1763.0v-6.8M1956.7,1088.0v6.8M1993.6,1763.0v-6.8M1993.6,1088.0v6.8M2067.5,1763.0v-6.8M2067.5,1088.0v6.8M2104.4,1763.0v-6.8M2104.4,1088.0v6.8M2141.3,1763.0v-6.8M2141.3,1088.0v6.8M2178.2,1763.0v-6.8M2178.2,1088.0v6.8M2252.0,1763.0v-6.8M2252.0,1088.0v6.8M2289.0,1763.0v-6.8M2289.0,1088.0v6.8M2325.9,1763.0v-6.8M2325.9,1088.0v6.8M2362.8,1763.0v-6.8M2362.8,1088.0v6.8M1476.8,1703.4h13.5M2437.0,1703.4h-13.5M1476.8,1522.4h13.5M2437.0,1522.4h-13.5M1476.8,1341.4h13.5M2437.0,1341.4h-13.5M1476.8,1160.4h13.5M2437.0,1160.4h-13.5M1476.8,1739.6h6.8M2437.0,1739.6h-6.8M1476.8,1667.2h6.8M2437.0,1667.2h-6.8M1476.8,1631.0h6.8M2437.0,1631.0h-6.8M1476.8,1594.8h6.8M2437.0,1594.8h-6.8M1476.8,1558.6h6.8M2437.0,1558.6h-6.8M1476.8,1486.2h6.8M2437.0,1486.2h-6.8M1476.8,1450.0h6.8M2437.0,1450.0h-6.8M1476.8,1413.8h6.8M2437.0,1413.8h-6.8M1476.8,1377.6h6.8M2437.0,1377.6h-6.8M1476.8,1305.2h6.8M2437.0,1305.2h-6.8M1476.8,1269.0h6.8M2437.0,1269.0h-6.8M1476.8,1232.8h6.8M2437.0,1232.8h-6.8M1476.8,1196.6h6.8M2437.0,1196.6h-6.8M1476.8,1124.2h6.8M2437.0,1124.2h-6.8" stroke="#000" stroke-width="6.2" stroke-linecap="round" fill="none"/>
<g font-family="'Liberation Sans', Arial, sans-serif" font-weight="bold" font-size="54.5px" fill="#000">
<text transform="translate(320.3,949) scale(1,1.035)" text-anchor="middle">-2</text>
<text transform="translate(506.7,949) scale(1,1.035)" text-anchor="middle">0</text>
<text transform="translate(693.2,949) scale(1,1.035)" text-anchor="middle">2</text>
<text transform="translate(879.6,949) scale(1,1.035)" text-anchor="middle">4</text>
<text transform="translate(1066.0,949) scale(1,1.035)" text-anchor="middle">6</text>
<text transform="translate(259.4,1821) scale(1,1.035)" text-anchor="middle">-2</text>
<text transform="translate(459.5,1821) scale(1,1.035)" text-anchor="middle">0</text>
<text transform="translate(659.6,1821) scale(1,1.035)" text-anchor="middle">2</text>
<text transform="translate(859.7,1821) scale(1,1.035)" text-anchor="middle">4</text>
<text transform="translate(1059.8,1821) scale(1,1.035)" text-anchor="middle">6</text>
<text transform="translate(1476.8,949) scale(1,1.035)" text-anchor="middle">4</text>
<text transform="translate(1661.4,949) scale(1,1.035)" text-anchor="middle">6</text>
<text transform="translate(1846.0,949) scale(1,1.035)" text-anchor="middle">8</text>
<text transform="translate(2030.5,949) scale(1,1.035)" text-anchor="middle">10</text>
<text transform="translate(2215.1,949) scale(1,1.035)" text-anchor="middle">12</text>
<text transform="translate(2399.7,949) scale(1,1.035)" text-anchor="middle">14</text>
<text transform="translate(1476.8,1821) scale(1,1.035)" text-anchor="middle">4</text>
<text transform="translate(1661.4,1821) scale(1,1.035)" text-anchor="middle">6</text>
<text transform="translate(1846.0,1821) scale(1,1.035)" text-anchor="middle">8</text>
<text transform="translate(2030.5,1821) scale(1,1.035)" text-anchor="middle">10</text>
<text transform="translate(2215.1,1821) scale(1,1.035)" text-anchor="middle">12</text>
<text transform="translate(2399.7,1821) scale(1,1.035)" text-anchor="middle">14</text>
<text transform="translate(166,794.5) scale(1,1.035)" text-anchor="end">1.2</text>
<text transform="translate(166,606.7) scale(1,1.035)" text-anchor="end">1.4</text>
<text transform="translate(166,419.0) scale(1,1.035)" text-anchor="end">1.6</text>
<text transform="translate(166,231.2) scale(1,1.035)" text-anchor="end">1.8</text>
<text transform="translate(165,1704.0) scale(1,1.035)" text-anchor="end">1.2</text>
<text transform="translate(165,1515.9) scale(1,1.035)" text-anchor="end">1.4</text>
<text transform="translate(165,1327.8) scale(1,1.035)" text-anchor="end">1.6</text>
<text transform="translate(165,1139.7) scale(1,1.035)" text-anchor="end">1.8</text>
<text transform="translate(1462,846.9) scale(1,1.035)" text-anchor="end">0</text>
<text transform="translate(1462,666.0) scale(1,1.035)" text-anchor="end">3000</text>
<text transform="translate(1462,485.0) scale(1,1.035)" text-anchor="end">6000</text>
<text transform="translate(1462,304.1) scale(1,1.035)" text-anchor="end">9000</text>
<text transform="translate(1462,1718.9) scale(1,1.035)" text-anchor="end">0</text>
<text transform="translate(1462,1537.9) scale(1,1.035)" text-anchor="end">3000</text>
<text transform="translate(1462,1356.9) scale(1,1.035)" text-anchor="end">6000</text>
<text transform="translate(1462,1175.9) scale(1,1.035)" text-anchor="end">9000</text>
</g>
<rect x="521.2" y="18" width="1597.3" height="173" fill="none" stroke="#000" stroke-width="5.5" stroke-linejoin="round"/>
<g font-family="'Liberation Sans', Arial, sans-serif" font-size="68px" fill="#000">
<g fill="#fff" stroke="#000000" stroke-width="5.3"><rect x="613.6" y="50.9" width="15.8" height="15.8"/></g>
<text transform="translate(914.5,81.8) scale(0.955,1)" text-anchor="end">30 °C</text>
<g fill="#fff" stroke="#FF0000" stroke-width="5.3"><rect x="998.5" y="50.9" width="15.8" height="15.8"/></g>
<text transform="translate(1299.5,81.8) scale(0.955,1)" text-anchor="end">60 °C</text>
<g fill="#fff" stroke="#0000FF" stroke-width="5.3"><rect x="1383.4" y="50.9" width="15.8" height="15.8"/></g>
<text transform="translate(1684.4,81.8) scale(0.955,1)" text-anchor="end">90 °C</text>
<g fill="#fff" stroke="#FF00FF" stroke-width="5.3"><rect x="1768.6" y="50.9" width="15.8" height="15.8"/></g>
<text transform="translate(2069.2,81.8) scale(0.955,1)" text-anchor="end">120 °C</text>
<g fill="#fff" stroke="#008000" stroke-width="5.3"><rect x="613.6" y="140.4" width="15.8" height="15.8"/></g>
<text transform="translate(914.5,171.3) scale(0.955,1)" text-anchor="end">150 °C</text>
<g fill="#fff" stroke="#000080" stroke-width="5.3"><rect x="998.5" y="140.4" width="15.8" height="15.8"/></g>
<text transform="translate(1299.5,171.3) scale(0.955,1)" text-anchor="end">180 °C</text>
<g fill="#fff" stroke="#8C00FF" stroke-width="5.3"><rect x="1383.4" y="140.4" width="15.8" height="15.8"/></g>
<text transform="translate(1684.4,171.3) scale(0.955,1)" text-anchor="end">210 °C</text>
<g fill="#fff" stroke="#808000" stroke-width="5.3"><rect x="1768.6" y="140.4" width="15.8" height="15.8"/></g>
<text transform="translate(2069.2,171.3) scale(0.955,1)" text-anchor="end">240 °C</text>
</g>
<text x="223.5" y="304.7" font-family="'Liberation Sans', Arial, sans-serif" font-weight="bold" font-size="60px">(a) F<tspan dx="2" font-weight="normal" font-size="54px">–</tspan><tspan dx="3" letter-spacing="0.6">B2Hf2</tspan></text>
<text x="1533.5" y="304.7" font-family="'Liberation Sans', Arial, sans-serif" font-weight="bold" font-size="60px">(b) F<tspan dx="2" font-weight="normal" font-size="54px">–</tspan><tspan dx="3" letter-spacing="0.6">B2Hf2</tspan></text>
<text x="222.5" y="1176.5" font-family="'Liberation Sans', Arial, sans-serif" font-weight="bold" font-size="60px">(c) S<tspan dx="2" font-weight="normal" font-size="54px">–</tspan><tspan dx="3" letter-spacing="0.6">B6Hf6</tspan></text>
<text x="1533" y="1176.2" font-family="'Liberation Sans', Arial, sans-serif" font-weight="bold" font-size="60px">(d) S<tspan dx="2" font-weight="normal" font-size="54px">–</tspan><tspan dx="3" letter-spacing="0.6">B6Hf6</tspan></text>
<g transform="translate(71.3,566) rotate(-90)"><text x="0" y="0" font-family="'Liberation Serif', 'Times New Roman', serif" font-size="62px">ε</text><text x="26" y="0" font-family="'Liberation Sans', Arial, sans-serif" font-weight="bold" font-size="62px">'</text></g>
<g transform="translate(68,1436) rotate(-90)"><text x="0" y="0" font-family="'Liberation Serif', 'Times New Roman', serif" font-size="62px">ε</text><text x="26" y="0" font-family="'Liberation Sans', Arial, sans-serif" font-weight="bold" font-size="62px">'</text></g>
<g transform="translate(1280,785) rotate(-90)" text-anchor="middle"><text x="8" y="0" font-family="'Liberation Sans', Arial, sans-serif" font-weight="bold" font-size="58px">(</text><text x="34.7" y="0" font-family="'Liberation Serif', 'Times New Roman', serif" font-style="italic" font-size="63px">ε</text><text x="57" y="4" font-family="'Liberation Sans', Arial, sans-serif" font-weight="bold" font-size="72px">'</text><text x="84.6" y="0" font-family="'Liberation Sans', Arial, sans-serif" font-weight="bold" font-size="58px">(</text><text x="118.7" y="0" font-family="'Liberation Serif', 'Times New Roman', serif" font-style="italic" font-size="63px">ν</text><text x="150.9" y="0" font-family="'Liberation Sans', Arial, sans-serif" font-weight="bold" font-size="58px">)</text><text x="193" y="0" font-family="'Liberation Sans', Arial, sans-serif" font-size="50px">−</text><text x="228.5" y="0" font-family="'Liberation Serif', 'Times New Roman', serif" font-style="italic" font-size="63px">ε</text><text x="250" y="17" font-family="'Liberation Serif', 'Times New Roman', serif" font-size="36px">∞</text><text x="281.5" y="0" font-family="'Liberation Sans', Arial, sans-serif" font-weight="bold" font-size="58px">)</text><text x="318" y="-8" font-family="'Liberation Sans', Arial, sans-serif" font-size="40px">·</text><text x="348.7" y="0" font-family="'Liberation Sans', Arial, sans-serif" font-weight="bold" font-style="italic" font-size="60px">T</text><text x="405.5" y="0" font-family="'Liberation Sans', Arial, sans-serif" font-weight="bold" font-size="58px">/</text><text x="455.5" y="0" font-family="'Liberation Sans', Arial, sans-serif" font-weight="bold" font-size="60px">K</text></g>
<g transform="translate(1283,1661) rotate(-90)" text-anchor="middle"><text x="8" y="0" font-family="'Liberation Sans', Arial, sans-serif" font-weight="bold" font-size="58px">(</text><text x="34.7" y="0" font-family="'Liberation Serif', 'Times New Roman', serif" font-style="italic" font-size="63px">ε</text><text x="57" y="4" font-family="'Liberation Sans', Arial, sans-serif" font-weight="bold" font-size="72px">'</text><text x="84.6" y="0" font-family="'Liberation Sans', Arial, sans-serif" font-weight="bold" font-size="58px">(</text><text x="118.7" y="0" font-family="'Liberation Serif', 'Times New Roman', serif" font-style="italic" font-size="63px">ν</text><text x="150.9" y="0" font-family="'Liberation Sans', Arial, sans-serif" font-weight="bold" font-size="58px">)</text><text x="193" y="0" font-family="'Liberation Sans', Arial, sans-serif" font-size="50px">−</text><text x="228.5" y="0" font-family="'Liberation Serif', 'Times New Roman', serif" font-style="italic" font-size="63px">ε</text><text x="250" y="17" font-family="'Liberation Serif', 'Times New Roman', serif" font-size="36px">∞</text><text x="281.5" y="0" font-family="'Liberation Sans', Arial, sans-serif" font-weight="bold" font-size="58px">)</text><text x="318" y="-8" font-family="'Liberation Sans', Arial, sans-serif" font-size="40px">·</text><text x="348.7" y="0" font-family="'Liberation Sans', Arial, sans-serif" font-weight="bold" font-style="italic" font-size="60px">T</text><text x="405.5" y="0" font-family="'Liberation Sans', Arial, sans-serif" font-weight="bold" font-size="58px">/</text><text x="455.5" y="0" font-family="'Liberation Sans', Arial, sans-serif" font-weight="bold" font-size="60px">K</text></g>
<g><text x="487" y="1038.6" font-family="'Liberation Sans', Arial, sans-serif" font-weight="bold" font-size="53px">log</text><text x="593.5" y="1038.6" text-anchor="middle" font-family="'Liberation Serif', 'Times New Roman', serif" font-size="62px">(</text><text x="617" y="1038.6" text-anchor="middle" font-family="'Liberation Serif', 'Times New Roman', serif" font-size="56px">ν</text><text x="652.3" y="1038.6" text-anchor="middle" font-family="'Liberation Sans', Arial, sans-serif" font-weight="bold" font-size="53px">/</text><text x="674.6" y="1038.6" font-family="'Liberation Sans', Arial, sans-serif" font-weight="bold" font-size="53px">Hz</text><text x="751.9" y="1038.6" text-anchor="middle" font-family="'Liberation Serif', 'Times New Roman', serif" font-size="62px">)</text></g>
<g transform="translate(7.4,1907.9) scale(1,0.845) translate(0,-1038.6)"><g><text x="487" y="1038.6" font-family="'Liberation Sans', Arial, sans-serif" font-weight="bold" font-size="53px">log</text><text x="593.5" y="1038.6" text-anchor="middle" font-family="'Liberation Serif', 'Times New Roman', serif" font-size="62px">(</text><text x="617" y="1038.6" text-anchor="middle" font-family="'Liberation Serif', 'Times New Roman', serif" font-size="56px">ν</text><text x="652.3" y="1038.6" text-anchor="middle" font-family="'Liberation Sans', Arial, sans-serif" font-weight="bold" font-size="53px">/</text><text x="674.6" y="1038.6" font-family="'Liberation Sans', Arial, sans-serif" font-weight="bold" font-size="53px">Hz</text><text x="751.9" y="1038.6" text-anchor="middle" font-family="'Liberation Serif', 'Times New Roman', serif" font-size="62px">)</text></g></g>
<g><text x="1602" y="1035" text-anchor="start" font-family="'Liberation Sans', Arial, sans-serif" font-weight="bold" font-size="53px">log</text><text x="1693.5" y="1035" text-anchor="middle" font-family="'Liberation Sans', Arial, sans-serif" font-weight="bold" font-size="53px">[</text><text x="1710.2" y="1035" text-anchor="middle" font-family="'Liberation Sans', Arial, sans-serif" font-weight="bold" font-size="53px">(</text><text x="1741.5" y="1035" text-anchor="middle" font-family="'Liberation Serif', 'Times New Roman', serif" font-style="italic" font-size="60px">ν</text><text x="1762.2" y="1035" text-anchor="start" font-family="'Liberation Sans', Arial, sans-serif" font-weight="bold" font-size="53px">Hz</text><text x="1838" y="1010" text-anchor="middle" font-family="'Liberation Sans', Arial, sans-serif" font-size="32px">−</text><text x="1855.4" y="1008.4" text-anchor="middle" font-family="'Liberation Sans', Arial, sans-serif" font-size="33px">1</text><text x="1874.7" y="1035" text-anchor="middle" font-family="'Liberation Sans', Arial, sans-serif" font-weight="bold" font-size="53px">)</text><text x="1906.8" y="1035" text-anchor="middle" font-family="'Liberation Sans', Arial, sans-serif" font-weight="bold" font-size="53px">/</text><text x="1939.5" y="1035" text-anchor="middle" font-family="'Liberation Sans', Arial, sans-serif" font-weight="bold" font-size="53px">(</text><text x="1969.7" y="1035" text-anchor="middle" font-family="'Liberation Serif', 'Times New Roman', serif" font-style="italic" font-size="62px">σ</text><text x="2005.2" y="1053.5" text-anchor="middle" font-family="'Liberation Sans', Arial, sans-serif" font-weight="bold" font-size="33px">DC</text><text x="2048.5" y="1035" text-anchor="middle" font-family="'Liberation Sans', Arial, sans-serif" font-weight="bold" font-style="italic" font-size="53px">T</text><text x="2097.2" y="1035" text-anchor="middle" font-family="'Liberation Serif', 'Times New Roman', serif" font-size="60px">Ω</text><text x="2133" y="1035" text-anchor="start" font-family="'Liberation Sans', Arial, sans-serif" font-weight="bold" font-size="53px">cm</text><text x="2247.1" y="1035" text-anchor="middle" font-family="'Liberation Sans', Arial, sans-serif" font-weight="bold" font-size="53px">K</text><text x="2274.4" y="1010" text-anchor="middle" font-family="'Liberation Sans', Arial, sans-serif" font-size="32px">−</text><text x="2292.4" y="1008.4" text-anchor="middle" font-family="'Liberation Sans', Arial, sans-serif" font-size="33px">1</text><text x="2311.4" y="1035" text-anchor="middle" font-family="'Liberation Sans', Arial, sans-serif" font-weight="bold" font-size="53px">)</text><text x="2328.9" y="1035" text-anchor="middle" font-family="'Liberation Sans', Arial, sans-serif" font-weight="bold" font-size="53px">]</text></g>
<g transform="translate(5.5,1905) scale(1,0.845) translate(0,-1035)"><g><text x="1602" y="1035" text-anchor="start" font-family="'Liberation Sans', Arial, sans-serif" font-weight="bold" font-size="53px">log</text><text x="1693.5" y="1035" text-anchor="middle" font-family="'Liberation Sans', Arial, sans-serif" font-weight="bold" font-size="53px">[</text><text x="1710.2" y="1035" text-anchor="middle" font-family="'Liberation Sans', Arial, sans-serif" font-weight="bold" font-size="53px">(</text><text x="1741.5" y="1035" text-anchor="middle" font-family="'Liberation Serif', 'Times New Roman', serif" font-style="italic" font-size="60px">ν</text><text x="1762.2" y="1035" text-anchor="start" font-family="'Liberation Sans', Arial, sans-serif" font-weight="bold" font-size="53px">Hz</text><text x="1838" y="1010" text-anchor="middle" font-family="'Liberation Sans', Arial, sans-serif" font-size="32px">−</text><text x="1855.4" y="1008.4" text-anchor="middle" font-family="'Liberation Sans', Arial, sans-serif" font-size="33px">1</text><text x="1874.7" y="1035" text-anchor="middle" font-family="'Liberation Sans', Arial, sans-serif" font-weight="bold" font-size="53px">)</text><text x="1906.8" y="1035" text-anchor="middle" font-family="'Liberation Sans', Arial, sans-serif" font-weight="bold" font-size="53px">/</text><text x="1939.5" y="1035" text-anchor="middle" font-family="'Liberation Sans', Arial, sans-serif" font-weight="bold" font-size="53px">(</text><text x="1969.7" y="1035" text-anchor="middle" font-family="'Liberation Serif', 'Times New Roman', serif" font-style="italic" font-size="62px">σ</text><text x="2005.2" y="1053.5" text-anchor="middle" font-family="'Liberation Sans', Arial, sans-serif" font-weight="bold" font-size="33px">DC</text><text x="2048.5" y="1035" text-anchor="middle" font-family="'Liberation Sans', Arial, sans-serif" font-weight="bold" font-style="italic" font-size="53px">T</text><text x="2097.2" y="1035" text-anchor="middle" font-family="'Liberation Serif', 'Times New Roman', serif" font-size="60px">Ω</text><text x="2133" y="1035" text-anchor="start" font-family="'Liberation Sans', Arial, sans-serif" font-weight="bold" font-size="53px">cm</text><text x="2247.1" y="1035" text-anchor="middle" font-family="'Liberation Sans', Arial, sans-serif" font-weight="bold" font-size="53px">K</text><text x="2274.4" y="1010" text-anchor="middle" font-family="'Liberation Sans', Arial, sans-serif" font-size="32px">−</text><text x="2292.4" y="1008.4" text-anchor="middle" font-family="'Liberation Sans', Arial, sans-serif" font-size="33px">1</text><text x="2311.4" y="1035" text-anchor="middle" font-family="'Liberation Sans', Arial, sans-serif" font-weight="bold" font-size="53px">)</text><text x="2328.9" y="1035" text-anchor="middle" font-family="'Liberation Sans', Arial, sans-serif" font-weight="bold" font-size="53px">]</text></g></g>
<path d="M405.9,550.7H422.1M450.5,550.7H466.7M495.1,550.7H511.2" stroke="#000" stroke-width="5.5" stroke-linecap="round" fill="none"/>
<path d="M395.8,846.0H403.4M431.9,846.0H448.1M476.6,846.0H492.8M521.4,846.0H537.6M566.0,846.0H582.2M610.8,846.0H627.0M655.5,846.0H671.7M700.2,846.0H716.4M744.9,846.0H761.1M789.5,846.0H805.8M834.2,846.0H850.5M879.0,846.0H895.2M923.7,846.0H939.9M968.4,846.0H984.6M1013.0,846.0H1029.2M1057.8,846.0H1071.8" stroke="#000" stroke-width="5.5" stroke-linecap="round" fill="none"/>
<path d="M1652.8,551.0H1659.8M1688.0,551.0H1704.2M1732.4,551.0H1748.6M1776.8,551.0H1793.0" stroke="#000" stroke-width="5.5" stroke-linecap="round" fill="none"/>
<path d="M1666.7,831.0H1682.9M1711.5,831.0H1727.7M1756.2,831.0H1772.5M1801.1,831.0H1817.3M1845.9,831.0H1862.1M1890.7,831.0H1906.9M1935.5,831.0H1951.7M1980.2,831.0H1996.5M2025.1,831.0H2041.3M2069.8,831.0H2086.0M2114.7,831.0H2130.8M2159.4,831.0H2175.6M2204.2,831.0H2220.4M2249.1,831.0H2265.2M2293.8,831.0H2310.0M2338.7,831.0H2354.8" stroke="#000" stroke-width="5.5" stroke-linecap="round" fill="none"/>
<path d="M473.9,1400.6H490.1M519.2,1400.6H535.5M564.5,1400.6H580.8" stroke="#000" stroke-width="5.5" stroke-linecap="round" fill="none"/>
<path d="M460.2,1710.4H462.2M490.8,1710.4H506.9M535.5,1710.4H551.7M580.1,1710.4H596.4M624.9,1710.4H641.1M669.5,1710.4H685.8M714.2,1710.4H730.5M759.0,1710.4H775.2M803.7,1710.4H819.9M848.4,1710.4H864.6M893.0,1710.4H909.2M937.8,1710.4H954.0M982.5,1710.4H998.7M1027.2,1710.4H1043.4" stroke="#000" stroke-width="5.5" stroke-linecap="round" fill="none"/>
<path d="M1610.8,1344.2H1617.2M1645.2,1344.2H1661.5M1689.5,1344.2H1705.8M1733.8,1344.2H1750.0" stroke="#000" stroke-width="5.5" stroke-linecap="round" fill="none"/>
<path d="M1587.5,1706.8H1589.7M1618.2,1706.8H1634.5M1663.0,1706.8H1679.2M1707.8,1706.8H1724.0M1752.5,1706.8H1768.7M1797.2,1706.8H1813.5M1842.0,1706.8H1858.2M1886.8,1706.8H1903.0M1931.5,1706.8H1947.7M1976.2,1706.8H1992.5M2021.0,1706.8H2037.2M2065.8,1706.8H2081.9M2110.5,1706.8H2126.7M2155.2,1706.8H2171.4M2200.0,1706.8H2216.2M2244.8,1706.8H2258.8" stroke="#000" stroke-width="5.5" stroke-linecap="round" fill="none"/>
<path d="M517.6,588.2V809.4" stroke="#000" stroke-width="5" fill="none"/><path d="M509.8,590.7L517.6,566.7L525.4,590.7ZM509.8,806.9L517.6,830.9L525.4,806.9Z" fill="#000" stroke="#000" stroke-width="3.2" stroke-linejoin="round"/>
<path d="M557.6,1430.9V1681.0" stroke="#000" stroke-width="5" fill="none"/><path d="M549.8000000000001,1433.4L557.6,1409.4L565.4,1433.4ZM549.8000000000001,1678.5L557.6,1702.5L565.4,1678.5Z" fill="#000" stroke="#000" stroke-width="3.2" stroke-linejoin="round"/>
<path d="M1703.1,585.7V660.5" stroke="#000" stroke-width="3" stroke-linecap="round" fill="none"/><path d="M1697.6,587.7L1703.1,568.2L1708.6,587.7Z" fill="#000" stroke="#000" stroke-width="1.5" stroke-linejoin="round"/>
<path d="M1704.3,791.8V716.8" stroke="#000" stroke-width="3" stroke-linecap="round" fill="none"/><path d="M1698.8,789.8L1704.3,809.3L1709.8,789.8Z" fill="#000" stroke="#000" stroke-width="1.5" stroke-linejoin="round"/>
<path d="M1689.2,1392.5V1466.0" stroke="#000" stroke-width="3" stroke-linecap="round" fill="none"/><path d="M1683.7,1394.5L1689.2,1375.0L1694.7,1394.5Z" fill="#000" stroke="#000" stroke-width="1.5" stroke-linejoin="round"/>
<path d="M1689.2,1678.3V1603.6" stroke="#000" stroke-width="3" stroke-linecap="round" fill="none"/><path d="M1683.7,1676.3L1689.2,1695.8L1694.7,1676.3Z" fill="#000" stroke="#000" stroke-width="1.5" stroke-linejoin="round"/>
<text x="319.5" y="567.6" font-family="'Liberation Serif', 'Times New Roman', serif" font-size="50px">ε</text><text x="340" y="583.3" font-family="'Liberation Sans', Arial, sans-serif" font-size="28px">S</text>
<text x="325.2" y="842.8" font-family="'Liberation Serif', 'Times New Roman', serif" font-size="50px">ε</text><text x="346.5" y="859.5" font-family="'Liberation Serif', 'Times New Roman', serif" font-size="32px">∞</text>
<text x="391.6" y="1407.9" font-family="'Liberation Serif', 'Times New Roman', serif" font-size="50px">ε</text><text x="411.6" y="1424.8" font-family="'Liberation Sans', Arial, sans-serif" font-size="28px">S</text>
<text x="387.4" y="1711.4" font-family="'Liberation Serif', 'Times New Roman', serif" font-size="50px">ε</text><text x="408.5" y="1726.5" font-family="'Liberation Serif', 'Times New Roman', serif" font-size="32px">∞</text>
<text x="394" y="751.6" font-family="'Liberation Serif', 'Times New Roman', serif" font-size="60px">Δε</text>
<text x="468" y="1569.2" font-family="'Liberation Serif', 'Times New Roman', serif" font-size="60px">Δε</text>
<text x="1654.8" y="706" font-family="'Liberation Serif', 'Times New Roman', serif" font-style="italic" font-size="68px" text-anchor="middle">Δ</text><text transform="translate(1695.8,706) scale(1.12,1)" font-family="'Liberation Serif', 'Times New Roman', serif" font-style="italic" font-size="68px" text-anchor="middle">ε</text><text x="1719.3" y="706" font-family="'Liberation Serif', 'Times New Roman', serif" font-style="italic" font-size="68px" text-anchor="middle">·</text><text transform="translate(1750.3,706) scale(1.15,1)" font-family="'Liberation Serif', 'Times New Roman', serif" font-style="italic" font-size="68px" text-anchor="middle">T</text>
<text x="1645.5" y="1552" font-family="'Liberation Serif', 'Times New Roman', serif" font-style="italic" font-size="68px" text-anchor="middle">Δ</text><text transform="translate(1686.5,1552) scale(1.12,1)" font-family="'Liberation Serif', 'Times New Roman', serif" font-style="italic" font-size="68px" text-anchor="middle">ε</text><text x="1710.0" y="1552" font-family="'Liberation Serif', 'Times New Roman', serif" font-style="italic" font-size="68px" text-anchor="middle">·</text><text transform="translate(1741.0,1552) scale(1.15,1)" font-family="'Liberation Serif', 'Times New Roman', serif" font-style="italic" font-size="68px" text-anchor="middle">T</text>
</svg>
</body></html>
